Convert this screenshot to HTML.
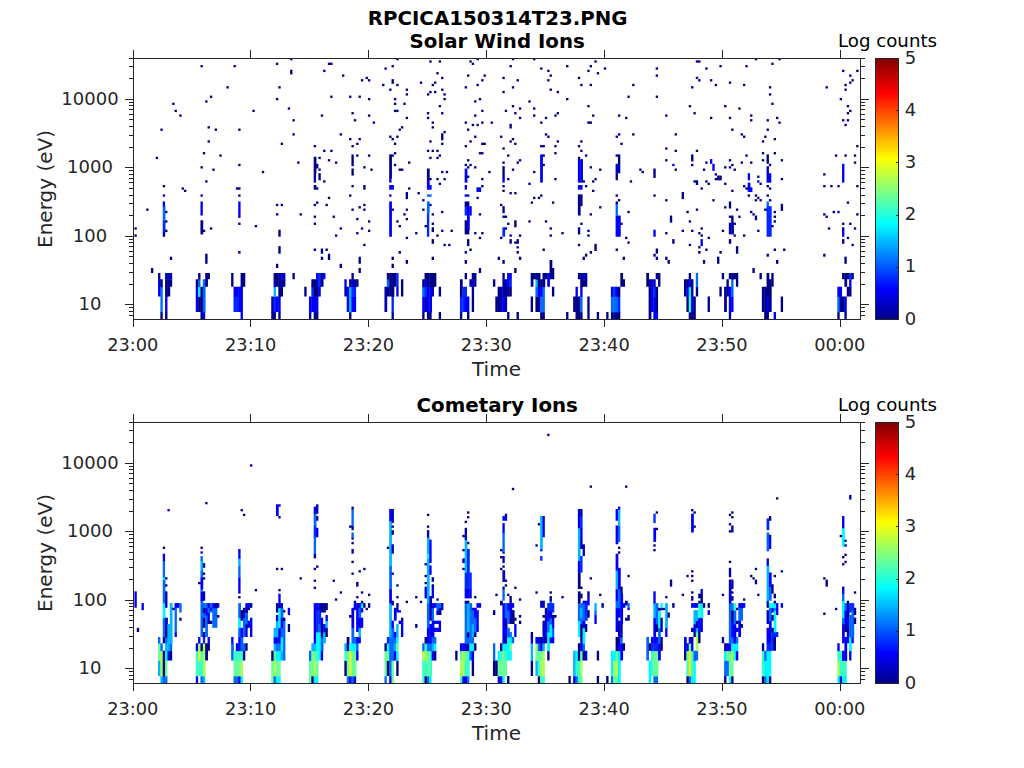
<!DOCTYPE html>
<html lang="en"><head><meta charset="utf-8"><title>RPCICA150314T23</title>
<style>html,body{margin:0;padding:0;background:#fff;overflow:hidden}svg{display:block}text{font-family:'DejaVu Sans','Liberation Sans',sans-serif}</style></head><body>
<svg width="1024" height="768" viewBox="0 0 1024 768">
<defs><linearGradient id="jet" x1="0" y1="1" x2="0" y2="0"><stop offset="0" stop-color="#000088"/><stop offset="0.117" stop-color="#0000ff"/><stop offset="0.367" stop-color="#00ffff"/><stop offset="0.617" stop-color="#ffff00"/><stop offset="0.867" stop-color="#ff0000"/><stop offset="1" stop-color="#800000"/></linearGradient></defs>
<rect width="1024" height="768" fill="#fff"/>
<g>
<rect x="134.43" y="234.39" width="2.36" height="2.35" fill="#000087"/>
<rect x="134.43" y="227.33" width="2.36" height="2.35" fill="#000087"/>
<rect x="146.22" y="208.51" width="2.36" height="2.35" fill="#000087"/>
<rect x="150.94" y="268.00" width="2.36" height="5.00" fill="#000087"/>
<rect x="155.66" y="156.76" width="2.36" height="2.35" fill="#000087"/>
<rect x="158.02" y="279.25" width="2.76" height="17.25" fill="#0000f7"/>
<rect x="158.02" y="273.00" width="2.36" height="6.65" fill="#000087"/>
<rect x="160.38" y="312.00" width="2.36" height="7.00" fill="#000087"/>
<rect x="160.38" y="286.75" width="2.36" height="25.65" fill="#0068ff"/>
<rect x="160.38" y="279.25" width="2.36" height="7.90" fill="#000087"/>
<rect x="160.38" y="128.53" width="2.36" height="2.35" fill="#000087"/>
<rect x="162.73" y="232.03" width="2.36" height="4.70" fill="#000087"/>
<rect x="162.73" y="220.27" width="2.76" height="12.16" fill="#0028ff"/>
<rect x="162.73" y="206.16" width="2.76" height="14.51" fill="#0068ff"/>
<rect x="162.73" y="201.45" width="2.36" height="5.10" fill="#0000f7"/>
<rect x="162.73" y="194.39" width="2.36" height="2.35" fill="#0000f7"/>
<rect x="162.73" y="184.99" width="2.36" height="2.35" fill="#000087"/>
<rect x="165.09" y="312.00" width="2.36" height="7.00" fill="#000087"/>
<rect x="165.09" y="296.50" width="2.36" height="15.90" fill="#0000f7"/>
<rect x="165.09" y="279.25" width="2.76" height="17.65" fill="#000087"/>
<rect x="165.09" y="273.00" width="2.76" height="6.65" fill="#0000b7"/>
<rect x="165.09" y="229.68" width="2.36" height="2.35" fill="#000087"/>
<rect x="165.09" y="220.27" width="2.36" height="2.35" fill="#000087"/>
<rect x="165.09" y="210.86" width="2.36" height="2.35" fill="#000087"/>
<rect x="167.45" y="279.25" width="2.76" height="17.25" fill="#000087"/>
<rect x="167.45" y="273.00" width="2.76" height="6.65" fill="#0000b7"/>
<rect x="169.81" y="279.25" width="2.36" height="7.50" fill="#000087"/>
<rect x="169.81" y="273.00" width="2.36" height="6.65" fill="#0000b7"/>
<rect x="169.81" y="256.70" width="2.36" height="3.30" fill="#000087"/>
<rect x="172.17" y="102.65" width="2.36" height="2.35" fill="#000087"/>
<rect x="174.53" y="109.71" width="2.36" height="2.35" fill="#000087"/>
<rect x="179.25" y="114.41" width="2.36" height="2.35" fill="#000087"/>
<rect x="181.60" y="187.34" width="2.36" height="2.35" fill="#000087"/>
<rect x="183.96" y="189.69" width="2.36" height="2.35" fill="#000087"/>
<rect x="195.76" y="286.75" width="2.76" height="25.25" fill="#0000f7"/>
<rect x="195.76" y="279.25" width="2.76" height="7.90" fill="#000087"/>
<rect x="198.11" y="296.50" width="2.76" height="15.50" fill="#000087"/>
<rect x="198.11" y="286.75" width="2.76" height="10.15" fill="#00f7ff"/>
<rect x="198.11" y="279.25" width="2.36" height="7.90" fill="#0068ff"/>
<rect x="198.11" y="273.00" width="2.36" height="6.65" fill="#000087"/>
<rect x="200.47" y="286.75" width="2.76" height="32.25" fill="#000087"/>
<rect x="200.47" y="220.27" width="2.76" height="14.11" fill="#000087"/>
<rect x="200.47" y="201.45" width="2.36" height="14.11" fill="#0000f7"/>
<rect x="200.47" y="194.39" width="2.36" height="2.35" fill="#0000f7"/>
<rect x="200.47" y="166.17" width="2.36" height="2.35" fill="#000087"/>
<rect x="200.47" y="65.01" width="2.36" height="2.35" fill="#000087"/>
<rect x="202.83" y="312.00" width="2.36" height="7.00" fill="#0000f7"/>
<rect x="202.83" y="279.25" width="2.76" height="33.15" fill="#0068ff"/>
<rect x="202.83" y="229.68" width="2.36" height="2.35" fill="#000087"/>
<rect x="202.83" y="152.05" width="2.36" height="2.35" fill="#000087"/>
<rect x="205.19" y="273.00" width="2.76" height="13.75" fill="#000087"/>
<rect x="205.19" y="253.70" width="2.36" height="10.10" fill="#000087"/>
<rect x="205.19" y="180.28" width="2.36" height="2.35" fill="#000087"/>
<rect x="205.19" y="100.30" width="2.36" height="2.35" fill="#000087"/>
<rect x="207.55" y="273.00" width="2.36" height="6.25" fill="#000087"/>
<rect x="207.55" y="140.29" width="2.36" height="2.35" fill="#000087"/>
<rect x="207.55" y="126.18" width="2.36" height="2.35" fill="#000087"/>
<rect x="209.91" y="227.33" width="2.36" height="2.35" fill="#000087"/>
<rect x="209.91" y="95.59" width="2.36" height="2.35" fill="#000087"/>
<rect x="212.27" y="168.52" width="2.36" height="2.35" fill="#000087"/>
<rect x="214.63" y="128.53" width="2.36" height="2.35" fill="#000087"/>
<rect x="219.34" y="154.40" width="2.36" height="2.35" fill="#000087"/>
<rect x="226.42" y="86.18" width="2.36" height="2.35" fill="#000087"/>
<rect x="231.14" y="273.00" width="2.36" height="13.75" fill="#000087"/>
<rect x="233.50" y="296.50" width="2.76" height="15.50" fill="#0028ff"/>
<rect x="233.50" y="286.75" width="2.76" height="10.15" fill="#0000f7"/>
<rect x="233.50" y="65.01" width="2.36" height="2.35" fill="#000087"/>
<rect x="235.85" y="296.50" width="2.76" height="15.50" fill="#0028ff"/>
<rect x="235.85" y="286.75" width="2.76" height="10.15" fill="#0000f7"/>
<rect x="235.85" y="187.34" width="2.76" height="2.35" fill="#000087"/>
<rect x="238.21" y="286.75" width="2.76" height="25.25" fill="#0000f7"/>
<rect x="238.21" y="251.00" width="2.36" height="2.70" fill="#000087"/>
<rect x="238.21" y="222.62" width="2.36" height="2.35" fill="#000087"/>
<rect x="238.21" y="201.45" width="2.36" height="16.47" fill="#0000f7"/>
<rect x="238.21" y="194.39" width="2.36" height="2.35" fill="#000087"/>
<rect x="238.21" y="187.34" width="2.36" height="2.35" fill="#000087"/>
<rect x="238.21" y="163.81" width="2.36" height="2.35" fill="#000087"/>
<rect x="238.21" y="128.53" width="2.36" height="2.35" fill="#000087"/>
<rect x="240.57" y="286.75" width="2.36" height="32.25" fill="#0000f7"/>
<rect x="240.57" y="273.00" width="2.76" height="14.15" fill="#000087"/>
<rect x="242.93" y="273.00" width="2.36" height="13.75" fill="#000087"/>
<rect x="252.37" y="109.71" width="2.36" height="2.35" fill="#000087"/>
<rect x="254.72" y="224.98" width="2.36" height="2.35" fill="#000087"/>
<rect x="261.80" y="170.87" width="2.36" height="2.35" fill="#000087"/>
<rect x="271.23" y="312.00" width="2.76" height="7.00" fill="#000087"/>
<rect x="271.23" y="296.50" width="2.76" height="15.90" fill="#0000b7"/>
<rect x="273.59" y="312.00" width="2.36" height="7.00" fill="#000087"/>
<rect x="273.59" y="296.50" width="2.76" height="15.90" fill="#0028ff"/>
<rect x="273.59" y="286.75" width="2.36" height="10.15" fill="#00b7ff"/>
<rect x="273.59" y="279.25" width="2.76" height="7.90" fill="#0000b7"/>
<rect x="273.59" y="273.00" width="2.76" height="6.65" fill="#000087"/>
<rect x="275.95" y="296.50" width="2.76" height="15.50" fill="#0000f7"/>
<rect x="275.95" y="273.00" width="2.76" height="13.75" fill="#000087"/>
<rect x="275.95" y="263.80" width="2.36" height="4.20" fill="#000087"/>
<rect x="275.95" y="213.21" width="2.36" height="2.35" fill="#000087"/>
<rect x="275.95" y="203.80" width="2.36" height="2.35" fill="#000087"/>
<rect x="275.95" y="97.95" width="2.36" height="2.35" fill="#000087"/>
<rect x="275.95" y="62.66" width="2.36" height="2.35" fill="#000087"/>
<rect x="278.31" y="312.00" width="2.36" height="7.00" fill="#000087"/>
<rect x="278.31" y="296.50" width="2.36" height="15.90" fill="#0000f7"/>
<rect x="278.31" y="273.00" width="2.76" height="23.90" fill="#000087"/>
<rect x="278.31" y="246.15" width="2.36" height="7.55" fill="#000087"/>
<rect x="278.31" y="229.68" width="2.36" height="7.06" fill="#000087"/>
<rect x="278.31" y="86.18" width="2.36" height="2.35" fill="#000087"/>
<rect x="280.67" y="286.75" width="2.36" height="9.75" fill="#000087"/>
<rect x="280.67" y="279.25" width="2.76" height="7.90" fill="#0000b7"/>
<rect x="280.67" y="273.00" width="2.76" height="6.65" fill="#0000f7"/>
<rect x="280.67" y="203.80" width="2.36" height="2.35" fill="#000087"/>
<rect x="280.67" y="142.64" width="2.36" height="2.35" fill="#000087"/>
<rect x="283.03" y="279.25" width="2.36" height="7.50" fill="#000087"/>
<rect x="283.03" y="273.00" width="2.36" height="6.65" fill="#0000b7"/>
<rect x="287.75" y="107.36" width="2.36" height="2.35" fill="#000087"/>
<rect x="290.10" y="69.72" width="2.36" height="4.70" fill="#000087"/>
<rect x="290.10" y="58.50" width="2.36" height="1.81" fill="#000087"/>
<rect x="292.46" y="273.00" width="2.36" height="6.25" fill="#000087"/>
<rect x="292.46" y="133.23" width="2.36" height="2.35" fill="#000087"/>
<rect x="292.46" y="119.12" width="2.36" height="2.35" fill="#000087"/>
<rect x="297.18" y="161.46" width="2.36" height="2.35" fill="#000087"/>
<rect x="299.54" y="213.21" width="2.36" height="2.35" fill="#000087"/>
<rect x="304.26" y="286.75" width="2.36" height="9.75" fill="#000087"/>
<rect x="308.97" y="312.00" width="2.36" height="7.00" fill="#0000b7"/>
<rect x="308.97" y="296.50" width="2.76" height="15.90" fill="#0000f7"/>
<rect x="311.33" y="296.50" width="2.76" height="15.50" fill="#0000f7"/>
<rect x="311.33" y="286.75" width="2.76" height="10.15" fill="#0028ff"/>
<rect x="311.33" y="279.25" width="2.76" height="7.90" fill="#000087"/>
<rect x="313.69" y="312.00" width="2.76" height="7.00" fill="#000087"/>
<rect x="313.69" y="296.50" width="2.76" height="15.90" fill="#0000f7"/>
<rect x="313.69" y="279.25" width="2.76" height="17.65" fill="#000087"/>
<rect x="313.69" y="248.50" width="2.36" height="2.50" fill="#000087"/>
<rect x="313.69" y="222.62" width="2.36" height="2.35" fill="#000087"/>
<rect x="313.69" y="215.57" width="2.36" height="2.35" fill="#000087"/>
<rect x="313.69" y="203.80" width="2.36" height="2.35" fill="#000087"/>
<rect x="313.69" y="184.99" width="2.76" height="4.70" fill="#000087"/>
<rect x="313.69" y="173.22" width="2.36" height="9.41" fill="#0000b7"/>
<rect x="313.69" y="156.76" width="2.76" height="16.87" fill="#000087"/>
<rect x="313.69" y="144.99" width="2.36" height="2.35" fill="#000087"/>
<rect x="316.05" y="312.00" width="2.36" height="7.00" fill="#000087"/>
<rect x="316.05" y="296.50" width="2.36" height="15.90" fill="#0000f7"/>
<rect x="316.05" y="286.75" width="2.76" height="10.15" fill="#000087"/>
<rect x="316.05" y="279.25" width="2.76" height="7.90" fill="#0000b7"/>
<rect x="316.05" y="273.00" width="2.76" height="6.65" fill="#0000f7"/>
<rect x="316.05" y="201.45" width="2.36" height="2.35" fill="#000087"/>
<rect x="316.05" y="187.34" width="2.36" height="2.35" fill="#000087"/>
<rect x="316.05" y="163.81" width="2.36" height="4.70" fill="#000087"/>
<rect x="318.41" y="286.75" width="2.36" height="9.75" fill="#0000f7"/>
<rect x="318.41" y="273.00" width="2.76" height="14.15" fill="#0028ff"/>
<rect x="318.41" y="173.22" width="2.36" height="7.06" fill="#000087"/>
<rect x="318.41" y="168.52" width="2.36" height="2.35" fill="#000087"/>
<rect x="318.41" y="156.76" width="2.36" height="2.35" fill="#000087"/>
<rect x="320.77" y="273.00" width="2.76" height="13.75" fill="#000087"/>
<rect x="320.77" y="256.70" width="2.36" height="3.30" fill="#000087"/>
<rect x="320.77" y="248.50" width="2.36" height="5.20" fill="#000087"/>
<rect x="320.77" y="114.41" width="2.36" height="2.35" fill="#000087"/>
<rect x="323.13" y="273.00" width="2.36" height="6.25" fill="#0000f7"/>
<rect x="323.13" y="180.28" width="2.36" height="2.35" fill="#000087"/>
<rect x="323.13" y="149.70" width="2.36" height="2.35" fill="#000087"/>
<rect x="323.13" y="69.72" width="2.36" height="2.35" fill="#000087"/>
<rect x="325.48" y="248.50" width="2.36" height="2.50" fill="#000087"/>
<rect x="325.48" y="203.80" width="2.36" height="2.35" fill="#000087"/>
<rect x="327.84" y="253.70" width="2.36" height="6.30" fill="#000087"/>
<rect x="327.84" y="196.75" width="2.36" height="2.35" fill="#000087"/>
<rect x="327.84" y="159.11" width="2.36" height="2.35" fill="#000087"/>
<rect x="327.84" y="62.66" width="2.76" height="2.35" fill="#000087"/>
<rect x="330.20" y="149.70" width="2.36" height="2.35" fill="#000087"/>
<rect x="330.20" y="95.59" width="2.36" height="2.35" fill="#000087"/>
<rect x="330.20" y="62.66" width="2.36" height="2.35" fill="#000087"/>
<rect x="332.56" y="215.57" width="2.36" height="2.35" fill="#000087"/>
<rect x="334.92" y="234.39" width="2.36" height="2.35" fill="#000087"/>
<rect x="334.92" y="161.46" width="2.36" height="2.35" fill="#000087"/>
<rect x="339.64" y="263.80" width="2.36" height="4.20" fill="#000087"/>
<rect x="339.64" y="227.33" width="2.36" height="2.35" fill="#000087"/>
<rect x="339.64" y="133.23" width="2.36" height="2.35" fill="#000087"/>
<rect x="342.00" y="74.42" width="2.36" height="2.35" fill="#000087"/>
<rect x="344.35" y="286.75" width="2.76" height="9.75" fill="#0000b7"/>
<rect x="344.35" y="279.25" width="2.36" height="7.90" fill="#0000f7"/>
<rect x="346.71" y="286.75" width="2.76" height="25.25" fill="#0000f7"/>
<rect x="349.07" y="312.00" width="2.36" height="7.00" fill="#000087"/>
<rect x="349.07" y="286.75" width="2.76" height="25.65" fill="#00b7ff"/>
<rect x="349.07" y="279.25" width="2.76" height="7.90" fill="#0000b7"/>
<rect x="349.07" y="194.39" width="2.36" height="2.35" fill="#000087"/>
<rect x="349.07" y="137.94" width="2.36" height="2.35" fill="#000087"/>
<rect x="349.07" y="95.59" width="2.36" height="2.35" fill="#000087"/>
<rect x="351.43" y="296.50" width="2.76" height="15.50" fill="#0000f7"/>
<rect x="351.43" y="286.75" width="2.76" height="10.15" fill="#0028ff"/>
<rect x="351.43" y="279.25" width="2.76" height="7.90" fill="#0000b7"/>
<rect x="351.43" y="273.00" width="2.36" height="6.65" fill="#000087"/>
<rect x="351.43" y="208.51" width="2.36" height="2.35" fill="#000087"/>
<rect x="351.43" y="184.99" width="2.36" height="2.35" fill="#000087"/>
<rect x="351.43" y="168.52" width="2.36" height="7.06" fill="#000087"/>
<rect x="351.43" y="154.40" width="2.36" height="11.76" fill="#000087"/>
<rect x="351.43" y="144.99" width="2.36" height="2.35" fill="#000087"/>
<rect x="351.43" y="112.06" width="2.36" height="2.35" fill="#000087"/>
<rect x="353.79" y="296.50" width="2.36" height="15.50" fill="#0000f7"/>
<rect x="353.79" y="286.75" width="2.36" height="10.15" fill="#0028ff"/>
<rect x="353.79" y="279.25" width="2.76" height="7.90" fill="#0000b7"/>
<rect x="353.79" y="119.12" width="2.36" height="2.35" fill="#000087"/>
<rect x="356.15" y="279.25" width="2.36" height="7.50" fill="#000087"/>
<rect x="356.15" y="232.03" width="2.36" height="2.35" fill="#000087"/>
<rect x="356.15" y="217.92" width="2.36" height="2.35" fill="#000087"/>
<rect x="356.15" y="154.40" width="2.36" height="2.35" fill="#000087"/>
<rect x="356.15" y="142.64" width="2.36" height="2.35" fill="#000087"/>
<rect x="358.51" y="268.00" width="2.36" height="5.00" fill="#000087"/>
<rect x="358.51" y="256.70" width="2.36" height="7.10" fill="#000087"/>
<rect x="358.51" y="206.16" width="2.36" height="2.35" fill="#000087"/>
<rect x="358.51" y="137.94" width="2.36" height="2.35" fill="#000087"/>
<rect x="358.51" y="95.59" width="2.36" height="2.35" fill="#000087"/>
<rect x="360.87" y="227.33" width="2.36" height="2.35" fill="#000087"/>
<rect x="360.87" y="79.13" width="2.36" height="2.35" fill="#000087"/>
<rect x="363.22" y="243.80" width="2.36" height="2.35" fill="#000087"/>
<rect x="363.22" y="208.51" width="2.36" height="2.35" fill="#000087"/>
<rect x="363.22" y="203.80" width="2.36" height="2.35" fill="#000087"/>
<rect x="363.22" y="184.99" width="2.36" height="4.70" fill="#000087"/>
<rect x="363.22" y="166.17" width="2.36" height="2.35" fill="#000087"/>
<rect x="365.58" y="76.77" width="2.36" height="2.35" fill="#000087"/>
<rect x="367.94" y="229.68" width="2.36" height="2.35" fill="#000087"/>
<rect x="367.94" y="220.27" width="2.36" height="2.35" fill="#000087"/>
<rect x="367.94" y="154.40" width="2.36" height="2.35" fill="#000087"/>
<rect x="367.94" y="114.41" width="2.36" height="2.35" fill="#000087"/>
<rect x="367.94" y="97.95" width="2.36" height="2.35" fill="#000087"/>
<rect x="367.94" y="79.13" width="2.36" height="2.35" fill="#000087"/>
<rect x="370.30" y="168.52" width="2.36" height="2.35" fill="#000087"/>
<rect x="372.66" y="121.47" width="2.36" height="2.35" fill="#000087"/>
<rect x="382.09" y="83.83" width="2.36" height="2.35" fill="#000087"/>
<rect x="384.45" y="286.75" width="2.76" height="25.25" fill="#0000b7"/>
<rect x="384.45" y="67.37" width="2.36" height="2.35" fill="#000087"/>
<rect x="386.81" y="286.75" width="2.76" height="9.75" fill="#000087"/>
<rect x="386.81" y="279.25" width="2.76" height="7.90" fill="#0068ff"/>
<rect x="386.81" y="273.00" width="2.76" height="6.65" fill="#000087"/>
<rect x="389.17" y="273.00" width="2.76" height="23.50" fill="#000087"/>
<rect x="389.17" y="201.45" width="2.76" height="35.29" fill="#0000f7"/>
<rect x="389.17" y="194.39" width="2.36" height="2.35" fill="#0000f7"/>
<rect x="389.17" y="184.99" width="2.76" height="4.70" fill="#0000f7"/>
<rect x="389.17" y="177.93" width="2.36" height="4.70" fill="#0000f7"/>
<rect x="389.17" y="154.40" width="2.76" height="23.92" fill="#000087"/>
<rect x="389.17" y="135.58" width="2.36" height="2.35" fill="#000087"/>
<rect x="389.17" y="88.54" width="2.36" height="2.35" fill="#000087"/>
<rect x="391.53" y="312.00" width="2.36" height="7.00" fill="#000087"/>
<rect x="391.53" y="296.50" width="2.36" height="15.90" fill="#0028ff"/>
<rect x="391.53" y="273.00" width="2.76" height="23.90" fill="#000087"/>
<rect x="391.53" y="263.80" width="2.36" height="4.20" fill="#000087"/>
<rect x="391.53" y="256.70" width="2.36" height="3.30" fill="#000087"/>
<rect x="391.53" y="208.51" width="2.36" height="2.35" fill="#000087"/>
<rect x="391.53" y="184.99" width="2.36" height="4.70" fill="#0000f7"/>
<rect x="391.53" y="154.40" width="2.36" height="2.35" fill="#000087"/>
<rect x="391.53" y="137.94" width="2.36" height="2.35" fill="#000087"/>
<rect x="391.53" y="79.13" width="2.36" height="4.70" fill="#000087"/>
<rect x="391.53" y="65.01" width="2.36" height="2.35" fill="#000087"/>
<rect x="393.89" y="273.00" width="2.76" height="13.75" fill="#000087"/>
<rect x="393.89" y="163.81" width="2.36" height="2.35" fill="#000087"/>
<rect x="393.89" y="152.05" width="2.36" height="2.35" fill="#000087"/>
<rect x="393.89" y="142.64" width="2.36" height="2.35" fill="#000087"/>
<rect x="393.89" y="109.71" width="2.76" height="2.35" fill="#000087"/>
<rect x="393.89" y="102.65" width="2.36" height="2.35" fill="#000087"/>
<rect x="393.89" y="97.95" width="2.36" height="2.35" fill="#000087"/>
<rect x="396.25" y="286.75" width="2.36" height="9.75" fill="#0000f7"/>
<rect x="396.25" y="273.00" width="2.36" height="14.15" fill="#0028ff"/>
<rect x="396.25" y="220.27" width="2.36" height="2.35" fill="#000087"/>
<rect x="396.25" y="135.58" width="2.36" height="2.35" fill="#000087"/>
<rect x="396.25" y="109.71" width="2.36" height="2.35" fill="#000087"/>
<rect x="396.25" y="83.83" width="2.36" height="2.35" fill="#000087"/>
<rect x="396.25" y="58.50" width="2.36" height="1.81" fill="#000087"/>
<rect x="398.60" y="251.00" width="2.36" height="2.70" fill="#000087"/>
<rect x="398.60" y="224.98" width="2.36" height="2.35" fill="#000087"/>
<rect x="398.60" y="168.52" width="2.76" height="2.35" fill="#000087"/>
<rect x="398.60" y="128.53" width="2.36" height="2.35" fill="#000087"/>
<rect x="400.96" y="279.25" width="2.36" height="17.25" fill="#000087"/>
<rect x="400.96" y="168.52" width="2.36" height="2.35" fill="#000087"/>
<rect x="400.96" y="126.18" width="2.36" height="2.35" fill="#000087"/>
<rect x="403.32" y="213.21" width="2.36" height="2.35" fill="#000087"/>
<rect x="403.32" y="102.65" width="2.36" height="2.35" fill="#000087"/>
<rect x="405.68" y="260.00" width="2.36" height="3.80" fill="#000087"/>
<rect x="405.68" y="236.74" width="2.36" height="2.35" fill="#000087"/>
<rect x="405.68" y="217.92" width="2.36" height="2.35" fill="#000087"/>
<rect x="405.68" y="208.51" width="2.36" height="2.35" fill="#000087"/>
<rect x="405.68" y="192.04" width="2.36" height="7.06" fill="#000087"/>
<rect x="405.68" y="116.77" width="2.36" height="2.35" fill="#000087"/>
<rect x="405.68" y="93.24" width="2.36" height="2.35" fill="#000087"/>
<rect x="405.68" y="88.54" width="2.36" height="2.35" fill="#000087"/>
<rect x="408.04" y="187.34" width="2.36" height="2.35" fill="#000087"/>
<rect x="408.04" y="161.46" width="2.36" height="2.35" fill="#000087"/>
<rect x="415.12" y="232.03" width="2.36" height="2.35" fill="#000087"/>
<rect x="417.47" y="192.04" width="2.36" height="2.35" fill="#000087"/>
<rect x="419.83" y="81.48" width="2.36" height="2.35" fill="#000087"/>
<rect x="422.19" y="312.00" width="2.36" height="7.00" fill="#000087"/>
<rect x="422.19" y="296.50" width="2.76" height="15.90" fill="#0000f7"/>
<rect x="422.19" y="286.75" width="2.76" height="10.15" fill="#0068ff"/>
<rect x="422.19" y="279.25" width="2.76" height="7.90" fill="#000087"/>
<rect x="422.19" y="208.51" width="2.36" height="2.35" fill="#000087"/>
<rect x="422.19" y="199.10" width="2.36" height="2.35" fill="#000087"/>
<rect x="424.55" y="296.50" width="2.76" height="15.50" fill="#0000b7"/>
<rect x="424.55" y="286.75" width="2.76" height="10.15" fill="#0028ff"/>
<rect x="424.55" y="279.25" width="2.76" height="7.90" fill="#0000f7"/>
<rect x="424.55" y="273.00" width="2.76" height="6.65" fill="#000087"/>
<rect x="424.55" y="224.98" width="2.76" height="2.35" fill="#000087"/>
<rect x="426.91" y="312.00" width="2.76" height="7.00" fill="#000087"/>
<rect x="426.91" y="286.75" width="2.76" height="25.65" fill="#0000f7"/>
<rect x="426.91" y="273.00" width="2.76" height="14.15" fill="#000087"/>
<rect x="426.91" y="213.21" width="2.36" height="23.52" fill="#0028ff"/>
<rect x="426.91" y="201.45" width="2.76" height="12.16" fill="#0068ff"/>
<rect x="426.91" y="194.39" width="2.76" height="2.35" fill="#0068ff"/>
<rect x="426.91" y="180.28" width="2.76" height="9.41" fill="#0000f7"/>
<rect x="426.91" y="168.52" width="2.76" height="12.16" fill="#000087"/>
<rect x="426.91" y="149.70" width="2.36" height="2.35" fill="#000087"/>
<rect x="426.91" y="116.77" width="2.36" height="2.35" fill="#000087"/>
<rect x="426.91" y="112.06" width="2.36" height="2.35" fill="#000087"/>
<rect x="426.91" y="93.24" width="2.36" height="2.35" fill="#000087"/>
<rect x="429.27" y="312.00" width="2.36" height="7.00" fill="#000087"/>
<rect x="429.27" y="286.75" width="2.76" height="25.65" fill="#0000f7"/>
<rect x="429.27" y="273.00" width="2.76" height="14.15" fill="#000087"/>
<rect x="429.27" y="203.80" width="2.36" height="2.35" fill="#000087"/>
<rect x="429.27" y="194.39" width="2.36" height="2.35" fill="#0068ff"/>
<rect x="429.27" y="184.99" width="2.36" height="4.70" fill="#0000f7"/>
<rect x="429.27" y="177.93" width="2.36" height="2.35" fill="#000087"/>
<rect x="429.27" y="156.76" width="2.36" height="2.35" fill="#000087"/>
<rect x="429.27" y="140.29" width="2.36" height="2.35" fill="#000087"/>
<rect x="429.27" y="90.89" width="2.36" height="2.35" fill="#000087"/>
<rect x="429.27" y="60.31" width="2.36" height="2.35" fill="#000087"/>
<rect x="431.63" y="286.75" width="2.36" height="9.75" fill="#0000b7"/>
<rect x="431.63" y="273.00" width="2.76" height="14.15" fill="#000087"/>
<rect x="431.63" y="256.70" width="2.36" height="3.30" fill="#000087"/>
<rect x="431.63" y="239.09" width="2.36" height="4.70" fill="#000087"/>
<rect x="431.63" y="227.33" width="2.36" height="4.70" fill="#000087"/>
<rect x="431.63" y="222.62" width="2.36" height="2.35" fill="#000087"/>
<rect x="431.63" y="213.21" width="2.36" height="2.35" fill="#000087"/>
<rect x="431.63" y="149.70" width="2.36" height="2.35" fill="#000087"/>
<rect x="431.63" y="126.18" width="2.36" height="2.35" fill="#000087"/>
<rect x="431.63" y="121.47" width="2.36" height="2.35" fill="#000087"/>
<rect x="431.63" y="83.83" width="2.36" height="2.35" fill="#000087"/>
<rect x="433.98" y="273.00" width="2.36" height="13.75" fill="#000087"/>
<rect x="433.98" y="90.89" width="2.36" height="2.35" fill="#000087"/>
<rect x="433.98" y="81.48" width="2.36" height="2.35" fill="#000087"/>
<rect x="436.34" y="234.39" width="2.36" height="2.35" fill="#000087"/>
<rect x="436.34" y="177.93" width="2.36" height="2.35" fill="#000087"/>
<rect x="436.34" y="156.76" width="2.36" height="2.35" fill="#000087"/>
<rect x="436.34" y="149.70" width="2.36" height="2.35" fill="#000087"/>
<rect x="436.34" y="72.07" width="2.36" height="2.35" fill="#000087"/>
<rect x="438.70" y="312.00" width="2.36" height="7.00" fill="#000087"/>
<rect x="438.70" y="286.75" width="2.36" height="9.75" fill="#000087"/>
<rect x="438.70" y="182.63" width="2.36" height="2.35" fill="#000087"/>
<rect x="438.70" y="154.40" width="2.36" height="2.35" fill="#000087"/>
<rect x="438.70" y="105.00" width="2.36" height="2.35" fill="#000087"/>
<rect x="438.70" y="60.31" width="2.36" height="2.35" fill="#000087"/>
<rect x="441.06" y="229.68" width="2.36" height="2.35" fill="#000087"/>
<rect x="441.06" y="210.86" width="2.36" height="2.35" fill="#000087"/>
<rect x="441.06" y="170.87" width="2.36" height="2.35" fill="#000087"/>
<rect x="441.06" y="142.64" width="2.36" height="2.35" fill="#000087"/>
<rect x="441.06" y="133.23" width="2.36" height="7.06" fill="#000087"/>
<rect x="441.06" y="112.06" width="2.36" height="2.35" fill="#000087"/>
<rect x="441.06" y="88.54" width="2.36" height="2.35" fill="#000087"/>
<rect x="441.06" y="76.77" width="2.36" height="2.35" fill="#000087"/>
<rect x="443.42" y="243.80" width="2.36" height="2.35" fill="#000087"/>
<rect x="443.42" y="177.93" width="2.36" height="2.35" fill="#000087"/>
<rect x="443.42" y="130.88" width="2.36" height="2.35" fill="#000087"/>
<rect x="443.42" y="97.95" width="2.36" height="2.35" fill="#000087"/>
<rect x="443.42" y="93.24" width="2.36" height="2.35" fill="#000087"/>
<rect x="445.78" y="170.87" width="2.36" height="2.35" fill="#000087"/>
<rect x="448.14" y="243.80" width="2.36" height="2.35" fill="#000087"/>
<rect x="450.50" y="229.68" width="2.36" height="2.35" fill="#000087"/>
<rect x="459.93" y="312.00" width="2.36" height="7.00" fill="#000087"/>
<rect x="459.93" y="296.50" width="2.76" height="15.90" fill="#0028ff"/>
<rect x="459.93" y="279.25" width="2.76" height="17.65" fill="#000087"/>
<rect x="462.29" y="286.75" width="2.76" height="25.25" fill="#0028ff"/>
<rect x="464.65" y="296.50" width="2.76" height="15.50" fill="#0000f7"/>
<rect x="464.65" y="286.75" width="2.36" height="10.15" fill="#0028ff"/>
<rect x="464.65" y="273.00" width="2.36" height="6.25" fill="#000087"/>
<rect x="464.65" y="260.00" width="2.36" height="3.80" fill="#000087"/>
<rect x="464.65" y="251.00" width="2.36" height="2.70" fill="#000087"/>
<rect x="464.65" y="220.27" width="2.76" height="14.11" fill="#000087"/>
<rect x="464.65" y="206.16" width="2.76" height="9.41" fill="#0028ff"/>
<rect x="464.65" y="201.45" width="2.76" height="5.10" fill="#000087"/>
<rect x="464.65" y="194.39" width="2.76" height="2.35" fill="#0000f7"/>
<rect x="464.65" y="184.99" width="2.36" height="4.70" fill="#0000f7"/>
<rect x="464.65" y="168.52" width="2.76" height="14.11" fill="#0000f7"/>
<rect x="464.65" y="163.81" width="2.36" height="2.35" fill="#000087"/>
<rect x="464.65" y="144.99" width="2.36" height="2.35" fill="#000087"/>
<rect x="464.65" y="121.47" width="2.36" height="2.35" fill="#000087"/>
<rect x="464.65" y="86.18" width="2.36" height="2.35" fill="#000087"/>
<rect x="467.01" y="312.00" width="2.36" height="7.00" fill="#000087"/>
<rect x="467.01" y="296.50" width="2.36" height="15.90" fill="#0000f7"/>
<rect x="467.01" y="239.09" width="2.36" height="7.06" fill="#000087"/>
<rect x="467.01" y="229.68" width="2.36" height="4.70" fill="#000087"/>
<rect x="467.01" y="206.16" width="2.76" height="23.92" fill="#0000f7"/>
<rect x="467.01" y="201.45" width="2.36" height="5.10" fill="#000087"/>
<rect x="467.01" y="194.39" width="2.36" height="2.35" fill="#0000f7"/>
<rect x="467.01" y="175.58" width="2.36" height="2.35" fill="#000087"/>
<rect x="467.01" y="166.17" width="2.36" height="2.35" fill="#000087"/>
<rect x="467.01" y="159.11" width="2.36" height="2.35" fill="#000087"/>
<rect x="467.01" y="128.53" width="2.36" height="2.35" fill="#000087"/>
<rect x="467.01" y="74.42" width="2.36" height="2.35" fill="#000087"/>
<rect x="469.37" y="279.25" width="2.76" height="7.50" fill="#0000b7"/>
<rect x="469.37" y="248.50" width="2.36" height="2.50" fill="#000087"/>
<rect x="469.37" y="206.16" width="2.36" height="9.41" fill="#0000f7"/>
<rect x="469.37" y="163.81" width="2.36" height="2.35" fill="#000087"/>
<rect x="469.37" y="140.29" width="2.36" height="2.35" fill="#000087"/>
<rect x="469.37" y="60.31" width="2.36" height="2.35" fill="#000087"/>
<rect x="471.72" y="286.75" width="2.36" height="25.25" fill="#000087"/>
<rect x="471.72" y="279.25" width="2.76" height="7.90" fill="#0000b7"/>
<rect x="471.72" y="273.00" width="2.76" height="6.65" fill="#000087"/>
<rect x="471.72" y="123.82" width="2.36" height="2.35" fill="#000087"/>
<rect x="471.72" y="62.66" width="2.36" height="2.35" fill="#000087"/>
<rect x="474.08" y="279.25" width="2.36" height="7.50" fill="#0000b7"/>
<rect x="474.08" y="273.00" width="2.36" height="6.65" fill="#000087"/>
<rect x="474.08" y="232.03" width="2.36" height="2.35" fill="#000087"/>
<rect x="474.08" y="166.17" width="2.36" height="2.35" fill="#000087"/>
<rect x="474.08" y="135.58" width="2.36" height="2.35" fill="#000087"/>
<rect x="474.08" y="114.41" width="2.36" height="2.35" fill="#000087"/>
<rect x="474.08" y="100.30" width="2.36" height="2.35" fill="#000087"/>
<rect x="476.44" y="196.75" width="2.36" height="2.35" fill="#000087"/>
<rect x="476.44" y="187.34" width="2.76" height="4.70" fill="#0000f7"/>
<rect x="476.44" y="123.82" width="2.36" height="2.35" fill="#000087"/>
<rect x="476.44" y="83.83" width="2.36" height="2.35" fill="#000087"/>
<rect x="476.44" y="58.50" width="2.36" height="1.81" fill="#000087"/>
<rect x="478.80" y="268.00" width="2.36" height="5.00" fill="#000087"/>
<rect x="478.80" y="236.74" width="2.36" height="2.35" fill="#000087"/>
<rect x="478.80" y="213.21" width="2.36" height="2.35" fill="#000087"/>
<rect x="478.80" y="187.34" width="2.36" height="4.70" fill="#0000f7"/>
<rect x="478.80" y="152.05" width="2.76" height="2.35" fill="#000087"/>
<rect x="478.80" y="97.95" width="2.36" height="2.35" fill="#000087"/>
<rect x="481.16" y="232.03" width="2.36" height="2.35" fill="#000087"/>
<rect x="481.16" y="184.99" width="2.36" height="2.35" fill="#000087"/>
<rect x="481.16" y="177.93" width="2.36" height="2.35" fill="#000087"/>
<rect x="481.16" y="152.05" width="2.36" height="2.35" fill="#000087"/>
<rect x="481.16" y="142.64" width="2.76" height="2.35" fill="#000087"/>
<rect x="481.16" y="121.47" width="2.36" height="2.35" fill="#000087"/>
<rect x="481.16" y="109.71" width="2.36" height="2.35" fill="#000087"/>
<rect x="481.16" y="79.13" width="2.36" height="2.35" fill="#000087"/>
<rect x="483.52" y="142.64" width="2.36" height="2.35" fill="#000087"/>
<rect x="483.52" y="74.42" width="2.36" height="2.35" fill="#000087"/>
<rect x="488.23" y="170.87" width="2.36" height="2.35" fill="#000087"/>
<rect x="490.59" y="121.47" width="2.36" height="2.35" fill="#000087"/>
<rect x="492.95" y="279.25" width="2.36" height="7.50" fill="#000087"/>
<rect x="495.31" y="296.50" width="2.76" height="15.50" fill="#000087"/>
<rect x="497.67" y="286.75" width="2.76" height="25.25" fill="#000087"/>
<rect x="497.67" y="256.70" width="2.36" height="3.30" fill="#000087"/>
<rect x="500.03" y="286.75" width="2.76" height="25.25" fill="#0000b7"/>
<rect x="500.03" y="236.74" width="2.36" height="2.35" fill="#000087"/>
<rect x="500.03" y="203.80" width="2.36" height="2.35" fill="#000087"/>
<rect x="500.03" y="135.58" width="2.36" height="2.35" fill="#000087"/>
<rect x="502.39" y="296.50" width="2.76" height="15.50" fill="#0000f7"/>
<rect x="502.39" y="279.25" width="2.76" height="17.65" fill="#0000b7"/>
<rect x="502.39" y="273.00" width="2.36" height="6.65" fill="#000087"/>
<rect x="502.39" y="260.00" width="2.36" height="3.80" fill="#000087"/>
<rect x="502.39" y="227.33" width="2.76" height="9.41" fill="#0028ff"/>
<rect x="502.39" y="215.57" width="2.76" height="2.35" fill="#000087"/>
<rect x="502.39" y="206.16" width="2.36" height="7.06" fill="#000087"/>
<rect x="502.39" y="189.69" width="2.36" height="2.35" fill="#000087"/>
<rect x="502.39" y="184.99" width="2.36" height="2.35" fill="#000087"/>
<rect x="502.39" y="177.93" width="2.36" height="4.70" fill="#0000f7"/>
<rect x="502.39" y="166.17" width="2.36" height="12.16" fill="#000087"/>
<rect x="502.39" y="161.46" width="2.36" height="2.35" fill="#000087"/>
<rect x="502.39" y="147.35" width="2.36" height="2.35" fill="#000087"/>
<rect x="502.39" y="90.89" width="2.36" height="2.35" fill="#000087"/>
<rect x="502.39" y="76.77" width="2.36" height="2.35" fill="#000087"/>
<rect x="504.75" y="296.50" width="2.36" height="15.50" fill="#0000b7"/>
<rect x="504.75" y="286.75" width="2.76" height="10.15" fill="#000087"/>
<rect x="504.75" y="279.25" width="2.76" height="7.90" fill="#0000b7"/>
<rect x="504.75" y="227.33" width="2.36" height="2.35" fill="#000087"/>
<rect x="504.75" y="215.57" width="2.36" height="2.35" fill="#000087"/>
<rect x="504.75" y="109.71" width="2.36" height="2.35" fill="#000087"/>
<rect x="507.10" y="312.00" width="2.36" height="7.00" fill="#000087"/>
<rect x="507.10" y="286.75" width="2.76" height="9.75" fill="#000087"/>
<rect x="507.10" y="273.00" width="2.76" height="14.15" fill="#0000f7"/>
<rect x="507.10" y="222.62" width="2.36" height="2.35" fill="#000087"/>
<rect x="507.10" y="177.93" width="2.36" height="2.35" fill="#000087"/>
<rect x="507.10" y="154.40" width="2.36" height="2.35" fill="#000087"/>
<rect x="509.46" y="286.75" width="2.36" height="9.75" fill="#000087"/>
<rect x="509.46" y="279.25" width="2.36" height="7.90" fill="#0028ff"/>
<rect x="509.46" y="273.00" width="2.36" height="6.65" fill="#0000f7"/>
<rect x="509.46" y="239.09" width="2.36" height="4.70" fill="#000087"/>
<rect x="509.46" y="234.39" width="2.36" height="2.35" fill="#000087"/>
<rect x="509.46" y="192.04" width="2.36" height="2.35" fill="#000087"/>
<rect x="509.46" y="140.29" width="2.36" height="2.35" fill="#000087"/>
<rect x="509.46" y="123.82" width="2.36" height="4.70" fill="#000087"/>
<rect x="509.46" y="65.01" width="2.36" height="2.35" fill="#000087"/>
<rect x="511.82" y="168.52" width="2.36" height="2.35" fill="#000087"/>
<rect x="511.82" y="137.94" width="2.36" height="2.35" fill="#000087"/>
<rect x="511.82" y="105.00" width="2.36" height="2.35" fill="#000087"/>
<rect x="511.82" y="86.18" width="2.36" height="2.35" fill="#000087"/>
<rect x="511.82" y="58.50" width="2.36" height="1.81" fill="#000087"/>
<rect x="514.18" y="268.00" width="2.36" height="5.00" fill="#000087"/>
<rect x="514.18" y="241.44" width="2.76" height="2.35" fill="#000087"/>
<rect x="514.18" y="220.27" width="2.36" height="7.06" fill="#000087"/>
<rect x="514.18" y="192.04" width="2.36" height="2.35" fill="#000087"/>
<rect x="514.18" y="142.64" width="2.36" height="2.35" fill="#000087"/>
<rect x="514.18" y="112.06" width="2.36" height="2.35" fill="#000087"/>
<rect x="516.54" y="312.00" width="2.36" height="7.00" fill="#000087"/>
<rect x="516.54" y="251.00" width="2.36" height="2.70" fill="#000087"/>
<rect x="516.54" y="246.15" width="2.36" height="2.35" fill="#000087"/>
<rect x="516.54" y="239.09" width="2.36" height="4.70" fill="#000087"/>
<rect x="516.54" y="161.46" width="2.36" height="2.35" fill="#000087"/>
<rect x="516.54" y="79.13" width="2.36" height="2.35" fill="#000087"/>
<rect x="518.90" y="256.70" width="2.36" height="3.30" fill="#000087"/>
<rect x="518.90" y="234.39" width="2.36" height="2.35" fill="#000087"/>
<rect x="518.90" y="159.11" width="2.36" height="2.35" fill="#000087"/>
<rect x="518.90" y="116.77" width="2.36" height="2.35" fill="#000087"/>
<rect x="518.90" y="107.36" width="2.36" height="2.35" fill="#000087"/>
<rect x="528.33" y="220.27" width="2.36" height="2.35" fill="#000087"/>
<rect x="528.33" y="182.63" width="2.36" height="2.35" fill="#000087"/>
<rect x="528.33" y="100.30" width="2.36" height="2.35" fill="#000087"/>
<rect x="530.69" y="296.50" width="2.36" height="15.50" fill="#000087"/>
<rect x="530.69" y="273.00" width="2.76" height="13.75" fill="#000087"/>
<rect x="530.69" y="201.45" width="2.36" height="2.35" fill="#000087"/>
<rect x="533.05" y="273.00" width="2.76" height="6.25" fill="#000087"/>
<rect x="533.05" y="196.75" width="2.36" height="2.35" fill="#000087"/>
<rect x="533.05" y="170.87" width="2.36" height="2.35" fill="#000087"/>
<rect x="533.05" y="114.41" width="2.36" height="2.35" fill="#000087"/>
<rect x="533.05" y="107.36" width="2.36" height="2.35" fill="#000087"/>
<rect x="533.05" y="58.50" width="2.36" height="1.81" fill="#000087"/>
<rect x="535.41" y="296.50" width="2.76" height="15.50" fill="#000087"/>
<rect x="535.41" y="286.75" width="2.76" height="10.15" fill="#0068ff"/>
<rect x="535.41" y="279.25" width="2.76" height="7.90" fill="#00b7ff"/>
<rect x="535.41" y="273.00" width="2.76" height="6.65" fill="#000087"/>
<rect x="537.77" y="296.50" width="2.76" height="15.50" fill="#000087"/>
<rect x="537.77" y="286.75" width="2.76" height="10.15" fill="#0000f7"/>
<rect x="537.77" y="273.00" width="2.76" height="14.15" fill="#000087"/>
<rect x="537.77" y="196.75" width="2.36" height="2.35" fill="#000087"/>
<rect x="540.13" y="312.00" width="2.76" height="7.00" fill="#000087"/>
<rect x="540.13" y="296.50" width="2.76" height="15.90" fill="#0068ff"/>
<rect x="540.13" y="286.75" width="2.76" height="10.15" fill="#0000f7"/>
<rect x="540.13" y="279.25" width="2.76" height="7.90" fill="#000087"/>
<rect x="540.13" y="194.39" width="2.36" height="2.35" fill="#000087"/>
<rect x="540.13" y="154.40" width="2.76" height="28.23" fill="#0000f7"/>
<rect x="540.13" y="144.99" width="2.76" height="2.35" fill="#000087"/>
<rect x="540.13" y="121.47" width="2.36" height="2.35" fill="#000087"/>
<rect x="540.13" y="67.37" width="2.36" height="2.35" fill="#000087"/>
<rect x="542.49" y="312.00" width="2.36" height="7.00" fill="#000087"/>
<rect x="542.49" y="286.75" width="2.36" height="25.65" fill="#0068ff"/>
<rect x="542.49" y="273.00" width="2.76" height="14.15" fill="#000087"/>
<rect x="542.49" y="248.50" width="2.36" height="2.50" fill="#000087"/>
<rect x="542.49" y="163.81" width="2.36" height="2.35" fill="#000087"/>
<rect x="542.49" y="154.40" width="2.36" height="2.35" fill="#000087"/>
<rect x="542.49" y="144.99" width="2.36" height="2.35" fill="#000087"/>
<rect x="544.84" y="273.00" width="2.76" height="6.25" fill="#000087"/>
<rect x="544.84" y="220.27" width="2.36" height="2.35" fill="#000087"/>
<rect x="544.84" y="133.23" width="2.36" height="2.35" fill="#000087"/>
<rect x="544.84" y="116.77" width="2.36" height="2.35" fill="#000087"/>
<rect x="547.20" y="273.00" width="2.76" height="13.75" fill="#0000f7"/>
<rect x="547.20" y="135.58" width="2.36" height="2.35" fill="#000087"/>
<rect x="547.20" y="79.13" width="2.36" height="2.35" fill="#000087"/>
<rect x="547.20" y="69.72" width="2.36" height="2.35" fill="#000087"/>
<rect x="549.56" y="260.00" width="2.76" height="19.25" fill="#000087"/>
<rect x="549.56" y="234.39" width="2.36" height="2.35" fill="#000087"/>
<rect x="549.56" y="227.33" width="2.36" height="2.35" fill="#000087"/>
<rect x="549.56" y="88.54" width="2.36" height="2.35" fill="#000087"/>
<rect x="549.56" y="74.42" width="2.36" height="2.35" fill="#000087"/>
<rect x="551.92" y="286.75" width="2.36" height="9.75" fill="#000087"/>
<rect x="551.92" y="268.00" width="2.36" height="11.25" fill="#000087"/>
<rect x="551.92" y="201.45" width="2.36" height="2.35" fill="#000087"/>
<rect x="554.28" y="177.93" width="2.36" height="2.35" fill="#000087"/>
<rect x="554.28" y="152.05" width="2.36" height="2.35" fill="#000087"/>
<rect x="554.28" y="144.99" width="2.36" height="2.35" fill="#000087"/>
<rect x="554.28" y="114.41" width="2.36" height="2.35" fill="#000087"/>
<rect x="556.64" y="140.29" width="2.36" height="2.35" fill="#000087"/>
<rect x="556.64" y="112.06" width="2.36" height="2.35" fill="#000087"/>
<rect x="556.64" y="90.89" width="2.36" height="2.35" fill="#000087"/>
<rect x="561.35" y="232.03" width="2.36" height="2.35" fill="#000087"/>
<rect x="566.07" y="312.00" width="2.36" height="7.00" fill="#000087"/>
<rect x="566.07" y="97.95" width="2.36" height="2.35" fill="#000087"/>
<rect x="566.07" y="65.01" width="2.36" height="2.35" fill="#000087"/>
<rect x="573.15" y="296.50" width="2.76" height="15.50" fill="#000087"/>
<rect x="575.51" y="296.50" width="2.76" height="22.50" fill="#000087"/>
<rect x="575.51" y="286.75" width="2.36" height="10.15" fill="#0000f7"/>
<rect x="577.87" y="296.50" width="2.76" height="22.50" fill="#000087"/>
<rect x="577.87" y="273.00" width="2.76" height="6.25" fill="#000087"/>
<rect x="577.87" y="243.80" width="2.36" height="2.35" fill="#000087"/>
<rect x="577.87" y="227.33" width="2.36" height="7.06" fill="#000087"/>
<rect x="577.87" y="194.39" width="2.76" height="21.17" fill="#000087"/>
<rect x="577.87" y="184.99" width="2.76" height="4.70" fill="#0000f7"/>
<rect x="577.87" y="159.11" width="2.76" height="23.52" fill="#0000f7"/>
<rect x="577.87" y="156.76" width="2.36" height="2.75" fill="#000087"/>
<rect x="577.87" y="144.99" width="2.36" height="2.35" fill="#000087"/>
<rect x="577.87" y="76.77" width="2.36" height="2.35" fill="#000087"/>
<rect x="580.22" y="312.00" width="2.36" height="7.00" fill="#000087"/>
<rect x="580.22" y="296.50" width="2.36" height="15.90" fill="#0068ff"/>
<rect x="580.22" y="286.75" width="2.36" height="10.15" fill="#0000f7"/>
<rect x="580.22" y="273.00" width="2.76" height="14.15" fill="#000087"/>
<rect x="580.22" y="222.62" width="2.36" height="2.35" fill="#000087"/>
<rect x="580.22" y="194.39" width="2.36" height="11.76" fill="#000087"/>
<rect x="580.22" y="184.99" width="2.36" height="4.70" fill="#0000f7"/>
<rect x="580.22" y="159.11" width="2.76" height="23.52" fill="#0000f7"/>
<rect x="580.22" y="149.70" width="2.36" height="2.35" fill="#000087"/>
<rect x="580.22" y="140.29" width="2.36" height="2.35" fill="#000087"/>
<rect x="580.22" y="83.83" width="2.36" height="2.35" fill="#000087"/>
<rect x="582.58" y="279.25" width="2.76" height="7.50" fill="#000087"/>
<rect x="582.58" y="273.00" width="2.76" height="6.65" fill="#0000f7"/>
<rect x="582.58" y="256.70" width="2.36" height="3.30" fill="#000087"/>
<rect x="582.58" y="180.28" width="2.36" height="2.35" fill="#000087"/>
<rect x="584.94" y="273.00" width="2.36" height="13.75" fill="#000087"/>
<rect x="584.94" y="253.70" width="2.36" height="3.00" fill="#000087"/>
<rect x="584.94" y="184.99" width="2.36" height="2.35" fill="#000087"/>
<rect x="584.94" y="154.40" width="2.36" height="2.35" fill="#000087"/>
<rect x="587.30" y="296.50" width="2.36" height="22.50" fill="#000087"/>
<rect x="587.30" y="234.39" width="2.36" height="2.35" fill="#000087"/>
<rect x="587.30" y="229.68" width="2.36" height="2.35" fill="#000087"/>
<rect x="587.30" y="121.47" width="2.76" height="2.35" fill="#000087"/>
<rect x="587.30" y="105.00" width="2.36" height="2.35" fill="#000087"/>
<rect x="587.30" y="69.72" width="2.36" height="2.35" fill="#000087"/>
<rect x="589.66" y="251.00" width="2.36" height="2.70" fill="#000087"/>
<rect x="589.66" y="213.21" width="2.36" height="2.35" fill="#000087"/>
<rect x="589.66" y="166.17" width="2.36" height="2.35" fill="#000087"/>
<rect x="589.66" y="121.47" width="2.36" height="2.35" fill="#000087"/>
<rect x="589.66" y="83.83" width="2.36" height="2.35" fill="#000087"/>
<rect x="589.66" y="65.01" width="2.36" height="2.35" fill="#000087"/>
<rect x="592.02" y="189.69" width="2.36" height="2.35" fill="#000087"/>
<rect x="592.02" y="180.28" width="2.36" height="2.35" fill="#000087"/>
<rect x="592.02" y="114.41" width="2.36" height="2.35" fill="#000087"/>
<rect x="594.38" y="243.80" width="2.36" height="7.20" fill="#000087"/>
<rect x="594.38" y="177.93" width="2.36" height="2.35" fill="#000087"/>
<rect x="594.38" y="60.31" width="2.36" height="2.35" fill="#000087"/>
<rect x="596.74" y="312.00" width="2.36" height="7.00" fill="#000087"/>
<rect x="596.74" y="72.07" width="2.36" height="2.35" fill="#000087"/>
<rect x="599.09" y="206.16" width="2.36" height="2.35" fill="#000087"/>
<rect x="599.09" y="168.52" width="2.36" height="2.35" fill="#000087"/>
<rect x="603.81" y="67.37" width="2.36" height="2.35" fill="#000087"/>
<rect x="606.17" y="312.00" width="2.36" height="7.00" fill="#000087"/>
<rect x="610.89" y="312.00" width="2.76" height="7.00" fill="#000087"/>
<rect x="610.89" y="296.50" width="2.76" height="15.90" fill="#0068ff"/>
<rect x="610.89" y="286.75" width="2.76" height="10.15" fill="#0000f7"/>
<rect x="613.25" y="312.00" width="2.76" height="7.00" fill="#000087"/>
<rect x="613.25" y="296.50" width="2.76" height="15.90" fill="#0068ff"/>
<rect x="613.25" y="286.75" width="2.76" height="10.15" fill="#0028ff"/>
<rect x="615.60" y="312.00" width="2.76" height="7.00" fill="#000087"/>
<rect x="615.60" y="296.50" width="2.76" height="15.90" fill="#0068ff"/>
<rect x="615.60" y="286.75" width="2.76" height="10.15" fill="#0000f7"/>
<rect x="615.60" y="248.50" width="2.36" height="2.50" fill="#000087"/>
<rect x="615.60" y="215.57" width="2.76" height="21.17" fill="#0000f7"/>
<rect x="615.60" y="203.80" width="2.36" height="12.16" fill="#0068ff"/>
<rect x="615.60" y="201.45" width="2.36" height="2.75" fill="#000087"/>
<rect x="615.60" y="194.39" width="2.36" height="2.35" fill="#000087"/>
<rect x="615.60" y="173.22" width="2.36" height="7.06" fill="#000087"/>
<rect x="615.60" y="163.81" width="2.76" height="9.81" fill="#0000b7"/>
<rect x="615.60" y="154.40" width="2.76" height="2.35" fill="#000087"/>
<rect x="615.60" y="135.58" width="2.36" height="2.35" fill="#000087"/>
<rect x="617.96" y="312.00" width="2.36" height="7.00" fill="#000087"/>
<rect x="617.96" y="296.50" width="2.36" height="15.90" fill="#0028ff"/>
<rect x="617.96" y="286.75" width="2.36" height="10.15" fill="#000087"/>
<rect x="617.96" y="215.57" width="2.76" height="21.17" fill="#0000f7"/>
<rect x="617.96" y="199.10" width="2.36" height="2.35" fill="#000087"/>
<rect x="617.96" y="163.81" width="2.36" height="9.41" fill="#0000b7"/>
<rect x="617.96" y="154.40" width="2.36" height="9.81" fill="#000087"/>
<rect x="617.96" y="133.23" width="2.36" height="2.35" fill="#000087"/>
<rect x="617.96" y="114.41" width="2.36" height="2.35" fill="#000087"/>
<rect x="620.32" y="273.00" width="2.76" height="13.75" fill="#000087"/>
<rect x="620.32" y="222.62" width="2.36" height="2.35" fill="#000087"/>
<rect x="620.32" y="142.64" width="2.36" height="2.35" fill="#000087"/>
<rect x="622.68" y="279.25" width="2.36" height="7.50" fill="#000087"/>
<rect x="622.68" y="256.70" width="2.36" height="3.30" fill="#000087"/>
<rect x="625.04" y="236.74" width="2.36" height="2.35" fill="#000087"/>
<rect x="625.04" y="116.77" width="2.36" height="2.35" fill="#000087"/>
<rect x="627.40" y="241.44" width="2.36" height="2.35" fill="#000087"/>
<rect x="627.40" y="210.86" width="2.36" height="2.35" fill="#000087"/>
<rect x="627.40" y="95.59" width="2.36" height="2.35" fill="#000087"/>
<rect x="629.76" y="180.28" width="2.36" height="2.35" fill="#000087"/>
<rect x="632.12" y="133.23" width="2.36" height="2.35" fill="#000087"/>
<rect x="632.12" y="83.83" width="2.36" height="2.35" fill="#000087"/>
<rect x="639.19" y="168.52" width="2.36" height="2.35" fill="#000087"/>
<rect x="641.55" y="170.87" width="2.36" height="2.35" fill="#000087"/>
<rect x="646.27" y="273.00" width="2.76" height="13.75" fill="#000087"/>
<rect x="648.63" y="279.25" width="2.76" height="39.75" fill="#000087"/>
<rect x="650.99" y="279.25" width="2.76" height="32.75" fill="#0000f7"/>
<rect x="653.34" y="296.50" width="2.76" height="22.50" fill="#0000f7"/>
<rect x="653.34" y="286.75" width="2.76" height="10.15" fill="#0028ff"/>
<rect x="653.34" y="279.25" width="2.36" height="7.90" fill="#0000b7"/>
<rect x="653.34" y="253.70" width="2.36" height="3.00" fill="#000087"/>
<rect x="653.34" y="229.68" width="2.36" height="7.06" fill="#0000f7"/>
<rect x="653.34" y="194.39" width="2.36" height="2.35" fill="#000087"/>
<rect x="653.34" y="168.52" width="2.36" height="9.41" fill="#000087"/>
<rect x="655.70" y="312.00" width="2.36" height="7.00" fill="#0000f7"/>
<rect x="655.70" y="286.75" width="2.36" height="25.65" fill="#000087"/>
<rect x="655.70" y="273.00" width="2.76" height="6.25" fill="#000087"/>
<rect x="655.70" y="256.70" width="2.36" height="3.30" fill="#000087"/>
<rect x="655.70" y="248.50" width="2.36" height="5.20" fill="#000087"/>
<rect x="655.70" y="95.59" width="2.36" height="2.35" fill="#000087"/>
<rect x="655.70" y="74.42" width="2.36" height="2.35" fill="#000087"/>
<rect x="655.70" y="67.37" width="2.36" height="2.35" fill="#000087"/>
<rect x="658.06" y="273.00" width="2.36" height="13.75" fill="#000087"/>
<rect x="665.14" y="256.70" width="2.36" height="3.30" fill="#000087"/>
<rect x="665.14" y="232.03" width="2.36" height="2.35" fill="#000087"/>
<rect x="665.14" y="199.10" width="2.36" height="2.35" fill="#000087"/>
<rect x="665.14" y="159.11" width="2.36" height="2.35" fill="#000087"/>
<rect x="665.14" y="147.35" width="2.36" height="2.35" fill="#000087"/>
<rect x="665.14" y="114.41" width="2.36" height="2.35" fill="#000087"/>
<rect x="667.50" y="260.00" width="2.36" height="3.80" fill="#000087"/>
<rect x="669.85" y="215.57" width="2.36" height="7.06" fill="#000087"/>
<rect x="672.21" y="239.09" width="2.36" height="4.70" fill="#000087"/>
<rect x="672.21" y="163.81" width="2.36" height="2.35" fill="#0000f7"/>
<rect x="674.57" y="168.52" width="2.36" height="2.35" fill="#000087"/>
<rect x="674.57" y="149.70" width="2.36" height="2.35" fill="#000087"/>
<rect x="674.57" y="133.23" width="2.36" height="2.35" fill="#000087"/>
<rect x="681.65" y="229.68" width="2.36" height="2.35" fill="#000087"/>
<rect x="681.65" y="192.04" width="2.36" height="7.06" fill="#000087"/>
<rect x="684.01" y="279.25" width="2.76" height="17.25" fill="#000087"/>
<rect x="686.37" y="296.50" width="2.76" height="15.50" fill="#000087"/>
<rect x="686.37" y="286.75" width="2.76" height="10.15" fill="#0000f7"/>
<rect x="686.37" y="279.25" width="2.76" height="7.90" fill="#000087"/>
<rect x="686.37" y="210.86" width="2.36" height="2.35" fill="#000087"/>
<rect x="688.72" y="312.00" width="2.76" height="7.00" fill="#000087"/>
<rect x="688.72" y="296.50" width="2.76" height="15.90" fill="#38ffc7"/>
<rect x="688.72" y="286.75" width="2.76" height="10.15" fill="#00f7ff"/>
<rect x="688.72" y="279.25" width="2.76" height="7.90" fill="#0000f7"/>
<rect x="688.72" y="273.00" width="2.36" height="6.65" fill="#000087"/>
<rect x="688.72" y="243.80" width="2.36" height="2.35" fill="#000087"/>
<rect x="688.72" y="220.27" width="2.36" height="2.35" fill="#000087"/>
<rect x="688.72" y="105.00" width="2.36" height="2.35" fill="#000087"/>
<rect x="691.08" y="312.00" width="2.76" height="7.00" fill="#000087"/>
<rect x="691.08" y="296.50" width="2.76" height="15.90" fill="#0000f7"/>
<rect x="691.08" y="279.25" width="2.36" height="17.65" fill="#000087"/>
<rect x="691.08" y="229.68" width="2.36" height="2.35" fill="#000087"/>
<rect x="691.08" y="163.81" width="2.36" height="2.35" fill="#000087"/>
<rect x="691.08" y="154.40" width="2.36" height="7.06" fill="#000087"/>
<rect x="691.08" y="86.18" width="2.36" height="2.35" fill="#000087"/>
<rect x="693.44" y="296.50" width="2.36" height="22.50" fill="#000087"/>
<rect x="693.44" y="180.28" width="2.76" height="2.35" fill="#000087"/>
<rect x="693.44" y="112.06" width="2.36" height="2.35" fill="#000087"/>
<rect x="695.80" y="286.75" width="2.36" height="9.75" fill="#000087"/>
<rect x="695.80" y="273.00" width="2.36" height="14.15" fill="#0068ff"/>
<rect x="695.80" y="208.51" width="2.36" height="2.35" fill="#000087"/>
<rect x="695.80" y="180.28" width="2.36" height="4.70" fill="#000087"/>
<rect x="695.80" y="149.70" width="2.36" height="2.35" fill="#000087"/>
<rect x="695.80" y="76.77" width="2.36" height="2.35" fill="#000087"/>
<rect x="695.80" y="60.31" width="2.76" height="2.35" fill="#000087"/>
<rect x="698.16" y="251.00" width="2.36" height="2.70" fill="#000087"/>
<rect x="698.16" y="246.15" width="2.36" height="2.35" fill="#000087"/>
<rect x="698.16" y="232.03" width="2.36" height="2.35" fill="#000087"/>
<rect x="698.16" y="79.13" width="2.36" height="2.35" fill="#000087"/>
<rect x="698.16" y="60.31" width="2.36" height="2.35" fill="#000087"/>
<rect x="700.52" y="239.09" width="2.36" height="7.06" fill="#0000f7"/>
<rect x="700.52" y="234.39" width="2.36" height="2.35" fill="#000087"/>
<rect x="700.52" y="227.33" width="2.36" height="2.35" fill="#000087"/>
<rect x="700.52" y="187.34" width="2.36" height="2.35" fill="#000087"/>
<rect x="702.88" y="260.00" width="2.36" height="3.80" fill="#000087"/>
<rect x="702.88" y="168.52" width="2.36" height="2.35" fill="#000087"/>
<rect x="705.24" y="248.50" width="2.36" height="2.50" fill="#000087"/>
<rect x="705.24" y="180.28" width="2.36" height="2.35" fill="#000087"/>
<rect x="705.24" y="161.46" width="2.36" height="2.35" fill="#000087"/>
<rect x="705.24" y="67.37" width="2.36" height="2.35" fill="#000087"/>
<rect x="707.59" y="296.50" width="2.36" height="15.50" fill="#000087"/>
<rect x="707.59" y="236.74" width="2.36" height="2.35" fill="#000087"/>
<rect x="707.59" y="182.63" width="2.36" height="2.35" fill="#000087"/>
<rect x="709.95" y="159.11" width="2.36" height="4.70" fill="#0000f7"/>
<rect x="709.95" y="116.77" width="2.36" height="2.35" fill="#000087"/>
<rect x="709.95" y="79.13" width="2.36" height="2.35" fill="#000087"/>
<rect x="712.31" y="199.10" width="2.36" height="2.35" fill="#000087"/>
<rect x="712.31" y="163.81" width="2.36" height="7.06" fill="#0000f7"/>
<rect x="714.67" y="177.93" width="2.76" height="2.35" fill="#000087"/>
<rect x="714.67" y="173.22" width="2.36" height="2.35" fill="#000087"/>
<rect x="714.67" y="83.83" width="2.36" height="2.35" fill="#000087"/>
<rect x="717.03" y="256.70" width="2.36" height="7.10" fill="#000087"/>
<rect x="717.03" y="175.58" width="2.76" height="4.70" fill="#000087"/>
<rect x="719.39" y="286.75" width="2.36" height="9.75" fill="#000087"/>
<rect x="719.39" y="251.00" width="2.36" height="2.70" fill="#000087"/>
<rect x="719.39" y="175.58" width="2.36" height="4.70" fill="#000087"/>
<rect x="719.39" y="65.01" width="2.36" height="2.35" fill="#000087"/>
<rect x="721.75" y="273.00" width="2.36" height="6.25" fill="#000087"/>
<rect x="721.75" y="229.68" width="2.36" height="2.35" fill="#000087"/>
<rect x="724.11" y="286.75" width="2.76" height="25.25" fill="#000087"/>
<rect x="724.11" y="206.16" width="2.36" height="2.35" fill="#000087"/>
<rect x="724.11" y="182.63" width="2.36" height="2.35" fill="#000087"/>
<rect x="724.11" y="166.17" width="2.36" height="2.35" fill="#000087"/>
<rect x="724.11" y="105.00" width="2.36" height="2.35" fill="#000087"/>
<rect x="726.46" y="286.75" width="2.76" height="9.75" fill="#0000b7"/>
<rect x="726.46" y="279.25" width="2.36" height="7.90" fill="#000087"/>
<rect x="728.82" y="312.00" width="2.36" height="7.00" fill="#000087"/>
<rect x="728.82" y="286.75" width="2.76" height="25.65" fill="#0000f7"/>
<rect x="728.82" y="273.00" width="2.76" height="6.25" fill="#000087"/>
<rect x="728.82" y="239.09" width="2.36" height="4.70" fill="#000087"/>
<rect x="728.82" y="222.62" width="2.76" height="11.76" fill="#0000b7"/>
<rect x="728.82" y="215.57" width="2.76" height="2.35" fill="#000087"/>
<rect x="728.82" y="201.45" width="2.36" height="7.06" fill="#000087"/>
<rect x="728.82" y="166.17" width="2.36" height="2.35" fill="#000087"/>
<rect x="728.82" y="159.11" width="2.36" height="2.35" fill="#000087"/>
<rect x="728.82" y="116.77" width="2.36" height="2.35" fill="#000087"/>
<rect x="728.82" y="81.48" width="2.36" height="2.35" fill="#000087"/>
<rect x="731.18" y="296.50" width="2.36" height="15.50" fill="#0000f7"/>
<rect x="731.18" y="279.25" width="2.36" height="17.65" fill="#0068ff"/>
<rect x="731.18" y="273.00" width="2.76" height="6.65" fill="#000087"/>
<rect x="731.18" y="222.62" width="2.76" height="11.76" fill="#0000b7"/>
<rect x="731.18" y="215.57" width="2.36" height="7.46" fill="#000087"/>
<rect x="731.18" y="189.69" width="2.36" height="2.35" fill="#000087"/>
<rect x="731.18" y="163.81" width="2.36" height="2.35" fill="#000087"/>
<rect x="731.18" y="128.53" width="2.36" height="2.35" fill="#000087"/>
<rect x="733.54" y="273.00" width="2.76" height="6.25" fill="#000087"/>
<rect x="733.54" y="234.39" width="2.36" height="2.35" fill="#000087"/>
<rect x="733.54" y="222.62" width="2.36" height="2.35" fill="#000087"/>
<rect x="733.54" y="168.52" width="2.36" height="2.35" fill="#000087"/>
<rect x="735.90" y="273.00" width="2.36" height="13.75" fill="#000087"/>
<rect x="735.90" y="246.15" width="2.36" height="7.55" fill="#000087"/>
<rect x="735.90" y="208.51" width="2.36" height="2.35" fill="#000087"/>
<rect x="738.26" y="215.57" width="2.36" height="2.35" fill="#000087"/>
<rect x="738.26" y="107.36" width="2.36" height="2.35" fill="#000087"/>
<rect x="740.62" y="161.46" width="2.36" height="2.35" fill="#000087"/>
<rect x="740.62" y="133.23" width="2.36" height="2.35" fill="#000087"/>
<rect x="742.97" y="234.39" width="2.36" height="2.35" fill="#000087"/>
<rect x="742.97" y="184.99" width="2.36" height="2.35" fill="#000087"/>
<rect x="742.97" y="135.58" width="2.36" height="2.35" fill="#000087"/>
<rect x="742.97" y="83.83" width="2.36" height="2.35" fill="#000087"/>
<rect x="745.33" y="187.34" width="2.76" height="2.35" fill="#000087"/>
<rect x="745.33" y="154.40" width="2.36" height="2.35" fill="#000087"/>
<rect x="745.33" y="65.01" width="2.36" height="2.35" fill="#000087"/>
<rect x="747.69" y="194.39" width="2.36" height="2.35" fill="#000087"/>
<rect x="747.69" y="182.63" width="2.76" height="9.41" fill="#0000f7"/>
<rect x="747.69" y="173.22" width="2.36" height="7.06" fill="#0000f7"/>
<rect x="750.05" y="210.86" width="2.36" height="2.35" fill="#000087"/>
<rect x="750.05" y="187.34" width="2.36" height="4.70" fill="#0000f7"/>
<rect x="750.05" y="161.46" width="2.36" height="2.35" fill="#000087"/>
<rect x="750.05" y="119.12" width="2.36" height="2.35" fill="#000087"/>
<rect x="750.05" y="114.41" width="2.36" height="2.35" fill="#000087"/>
<rect x="752.41" y="268.00" width="2.36" height="5.00" fill="#000087"/>
<rect x="752.41" y="213.21" width="2.36" height="2.35" fill="#000087"/>
<rect x="754.77" y="215.57" width="2.36" height="4.70" fill="#000087"/>
<rect x="754.77" y="199.10" width="2.36" height="2.35" fill="#000087"/>
<rect x="754.77" y="194.39" width="2.36" height="2.35" fill="#000087"/>
<rect x="754.77" y="58.50" width="2.36" height="1.81" fill="#000087"/>
<rect x="757.13" y="229.68" width="2.36" height="2.35" fill="#000087"/>
<rect x="757.13" y="196.75" width="2.36" height="2.35" fill="#000087"/>
<rect x="757.13" y="180.28" width="2.36" height="2.35" fill="#0000f7"/>
<rect x="757.13" y="175.58" width="2.36" height="2.35" fill="#000087"/>
<rect x="759.49" y="273.00" width="2.36" height="6.25" fill="#000087"/>
<rect x="759.49" y="199.10" width="2.36" height="2.35" fill="#000087"/>
<rect x="759.49" y="182.63" width="2.36" height="2.35" fill="#000087"/>
<rect x="761.84" y="286.75" width="2.76" height="25.25" fill="#000087"/>
<rect x="761.84" y="159.11" width="2.36" height="2.35" fill="#000087"/>
<rect x="761.84" y="152.05" width="2.36" height="2.35" fill="#000087"/>
<rect x="761.84" y="140.29" width="2.36" height="2.35" fill="#000087"/>
<rect x="764.20" y="286.75" width="2.76" height="32.25" fill="#000087"/>
<rect x="764.20" y="208.51" width="2.76" height="2.35" fill="#000087"/>
<rect x="764.20" y="135.58" width="2.36" height="2.35" fill="#000087"/>
<rect x="766.56" y="312.00" width="2.36" height="7.00" fill="#000087"/>
<rect x="766.56" y="296.50" width="2.76" height="15.90" fill="#0000f7"/>
<rect x="766.56" y="273.00" width="2.76" height="23.90" fill="#000087"/>
<rect x="766.56" y="253.70" width="2.36" height="3.00" fill="#000087"/>
<rect x="766.56" y="206.16" width="2.76" height="30.58" fill="#0028ff"/>
<rect x="766.56" y="201.45" width="2.36" height="5.10" fill="#0068ff"/>
<rect x="766.56" y="194.39" width="2.36" height="2.35" fill="#000087"/>
<rect x="766.56" y="184.99" width="2.36" height="2.35" fill="#000087"/>
<rect x="766.56" y="173.22" width="2.76" height="9.41" fill="#0000f7"/>
<rect x="766.56" y="166.17" width="2.36" height="7.46" fill="#0000b7"/>
<rect x="766.56" y="154.40" width="2.36" height="9.41" fill="#000087"/>
<rect x="766.56" y="128.53" width="2.36" height="2.35" fill="#000087"/>
<rect x="766.56" y="119.12" width="2.36" height="2.35" fill="#000087"/>
<rect x="768.92" y="279.25" width="2.76" height="32.75" fill="#000087"/>
<rect x="768.92" y="206.16" width="2.76" height="30.58" fill="#0028ff"/>
<rect x="768.92" y="199.10" width="2.36" height="2.35" fill="#000087"/>
<rect x="768.92" y="187.34" width="2.36" height="2.35" fill="#000087"/>
<rect x="768.92" y="173.22" width="2.36" height="9.41" fill="#0000f7"/>
<rect x="768.92" y="163.81" width="2.36" height="2.35" fill="#000087"/>
<rect x="768.92" y="93.24" width="2.36" height="2.35" fill="#000087"/>
<rect x="768.92" y="86.18" width="2.36" height="2.35" fill="#000087"/>
<rect x="771.28" y="273.00" width="2.36" height="13.75" fill="#000087"/>
<rect x="771.28" y="224.98" width="2.36" height="2.35" fill="#000087"/>
<rect x="771.28" y="102.65" width="2.36" height="2.35" fill="#000087"/>
<rect x="771.28" y="62.66" width="2.36" height="2.35" fill="#000087"/>
<rect x="773.64" y="312.00" width="2.36" height="7.00" fill="#0000f7"/>
<rect x="773.64" y="248.50" width="2.36" height="2.50" fill="#000087"/>
<rect x="773.64" y="220.27" width="2.36" height="2.35" fill="#000087"/>
<rect x="773.64" y="215.57" width="2.36" height="2.35" fill="#000087"/>
<rect x="773.64" y="210.86" width="2.36" height="2.35" fill="#000087"/>
<rect x="773.64" y="152.05" width="2.36" height="2.35" fill="#000087"/>
<rect x="773.64" y="137.94" width="2.36" height="2.35" fill="#000087"/>
<rect x="776.00" y="260.00" width="2.36" height="3.80" fill="#000087"/>
<rect x="776.00" y="116.77" width="2.36" height="2.35" fill="#000087"/>
<rect x="778.36" y="121.47" width="2.36" height="2.35" fill="#000087"/>
<rect x="778.36" y="58.50" width="2.36" height="1.81" fill="#000087"/>
<rect x="780.71" y="296.50" width="2.36" height="15.50" fill="#000087"/>
<rect x="780.71" y="203.80" width="2.36" height="7.06" fill="#000087"/>
<rect x="780.71" y="177.93" width="2.36" height="2.35" fill="#000087"/>
<rect x="780.71" y="159.11" width="2.36" height="2.35" fill="#000087"/>
<rect x="783.07" y="248.50" width="2.36" height="2.50" fill="#000087"/>
<rect x="823.17" y="253.70" width="2.36" height="3.00" fill="#000087"/>
<rect x="823.17" y="213.21" width="2.36" height="2.35" fill="#000087"/>
<rect x="823.17" y="184.99" width="2.36" height="2.35" fill="#000087"/>
<rect x="823.17" y="173.22" width="2.36" height="2.35" fill="#000087"/>
<rect x="825.53" y="215.57" width="2.36" height="2.35" fill="#000087"/>
<rect x="825.53" y="86.18" width="2.36" height="2.35" fill="#000087"/>
<rect x="827.89" y="227.33" width="2.36" height="2.35" fill="#000087"/>
<rect x="830.25" y="184.99" width="2.36" height="2.35" fill="#000087"/>
<rect x="832.61" y="210.86" width="2.36" height="2.35" fill="#000087"/>
<rect x="834.96" y="154.40" width="2.36" height="2.35" fill="#000087"/>
<rect x="837.32" y="312.00" width="2.36" height="7.00" fill="#000087"/>
<rect x="837.32" y="296.50" width="2.76" height="15.90" fill="#0068ff"/>
<rect x="837.32" y="286.75" width="2.76" height="10.15" fill="#0000f7"/>
<rect x="837.32" y="210.86" width="2.36" height="2.35" fill="#0000f7"/>
<rect x="837.32" y="184.99" width="2.36" height="2.35" fill="#000087"/>
<rect x="839.68" y="296.50" width="2.76" height="15.50" fill="#000087"/>
<rect x="839.68" y="286.75" width="2.36" height="10.15" fill="#0000f7"/>
<rect x="839.68" y="97.95" width="2.36" height="2.35" fill="#000087"/>
<rect x="842.04" y="296.50" width="2.76" height="15.50" fill="#000087"/>
<rect x="842.04" y="273.00" width="2.76" height="6.25" fill="#000087"/>
<rect x="842.04" y="239.09" width="2.36" height="4.70" fill="#000087"/>
<rect x="842.04" y="229.68" width="2.36" height="7.06" fill="#0000f7"/>
<rect x="842.04" y="227.33" width="2.36" height="2.75" fill="#000087"/>
<rect x="842.04" y="222.62" width="2.36" height="2.35" fill="#000087"/>
<rect x="842.04" y="163.81" width="2.36" height="18.82" fill="#0000f7"/>
<rect x="842.04" y="119.12" width="2.36" height="2.35" fill="#000087"/>
<rect x="842.04" y="69.72" width="2.36" height="2.35" fill="#000087"/>
<rect x="844.40" y="312.00" width="2.36" height="7.00" fill="#000087"/>
<rect x="844.40" y="296.50" width="2.36" height="15.90" fill="#0000f7"/>
<rect x="844.40" y="273.00" width="2.76" height="13.75" fill="#000087"/>
<rect x="844.40" y="256.70" width="2.36" height="7.10" fill="#000087"/>
<rect x="844.40" y="154.40" width="2.36" height="2.35" fill="#000087"/>
<rect x="844.40" y="123.82" width="2.36" height="2.35" fill="#000087"/>
<rect x="844.40" y="88.54" width="2.36" height="2.35" fill="#000087"/>
<rect x="844.40" y="83.83" width="2.36" height="2.35" fill="#000087"/>
<rect x="846.76" y="286.75" width="2.76" height="9.75" fill="#000087"/>
<rect x="846.76" y="273.00" width="2.76" height="6.25" fill="#000087"/>
<rect x="846.76" y="236.74" width="2.36" height="2.35" fill="#000087"/>
<rect x="846.76" y="201.45" width="2.36" height="2.35" fill="#000087"/>
<rect x="846.76" y="119.12" width="2.36" height="2.35" fill="#000087"/>
<rect x="846.76" y="112.06" width="2.36" height="2.35" fill="#000087"/>
<rect x="846.76" y="105.00" width="2.36" height="2.35" fill="#000087"/>
<rect x="849.12" y="286.75" width="2.36" height="9.75" fill="#000087"/>
<rect x="849.12" y="279.25" width="2.36" height="7.90" fill="#0000f7"/>
<rect x="849.12" y="273.00" width="2.76" height="6.65" fill="#0028ff"/>
<rect x="849.12" y="222.62" width="2.36" height="2.35" fill="#000087"/>
<rect x="849.12" y="109.71" width="2.36" height="2.35" fill="#000087"/>
<rect x="849.12" y="81.48" width="2.36" height="2.35" fill="#000087"/>
<rect x="849.12" y="74.42" width="2.36" height="2.35" fill="#000087"/>
<rect x="851.47" y="273.00" width="2.36" height="6.25" fill="#000087"/>
<rect x="851.47" y="243.80" width="2.36" height="2.35" fill="#000087"/>
<rect x="851.47" y="79.13" width="2.36" height="2.35" fill="#000087"/>
<rect x="853.83" y="227.33" width="2.36" height="2.35" fill="#000087"/>
<rect x="853.83" y="161.46" width="2.36" height="2.35" fill="#000087"/>
<rect x="853.83" y="154.40" width="2.36" height="2.35" fill="#000087"/>
<rect x="856.19" y="213.21" width="2.36" height="2.35" fill="#000087"/>
<rect x="856.19" y="184.99" width="2.36" height="2.35" fill="#000087"/>
<rect x="856.19" y="144.99" width="2.36" height="2.35" fill="#000087"/>
<rect x="856.19" y="69.72" width="2.36" height="2.35" fill="#000087"/>
</g>
<g stroke="#262626" stroke-width="1" shape-rendering="crispEdges" fill="none">
<rect x="133.5" y="58.5" width="727" height="261"/>
<line x1="133.5" y1="319.5" x2="133.5" y2="327"/>
<line x1="133.5" y1="58.5" x2="133.5" y2="50"/>
<line x1="250.5" y1="319.5" x2="250.5" y2="327"/>
<line x1="250.5" y1="58.5" x2="250.5" y2="50"/>
<line x1="368.5" y1="319.5" x2="368.5" y2="327"/>
<line x1="368.5" y1="58.5" x2="368.5" y2="50"/>
<line x1="486.5" y1="319.5" x2="486.5" y2="327"/>
<line x1="486.5" y1="58.5" x2="486.5" y2="50"/>
<line x1="604.5" y1="319.5" x2="604.5" y2="327"/>
<line x1="604.5" y1="58.5" x2="604.5" y2="50"/>
<line x1="722.5" y1="319.5" x2="722.5" y2="327"/>
<line x1="722.5" y1="58.5" x2="722.5" y2="50"/>
<line x1="840.5" y1="319.5" x2="840.5" y2="327"/>
<line x1="840.5" y1="58.5" x2="840.5" y2="50"/>
<line x1="133.5" y1="315.5" x2="129" y2="315.5"/>
<line x1="860.5" y1="315.5" x2="864.5" y2="315.5"/>
<line x1="133.5" y1="311.5" x2="129" y2="311.5"/>
<line x1="860.5" y1="311.5" x2="864.5" y2="311.5"/>
<line x1="133.5" y1="307.5" x2="129" y2="307.5"/>
<line x1="860.5" y1="307.5" x2="864.5" y2="307.5"/>
<line x1="133.5" y1="304.5" x2="125" y2="304.5"/>
<line x1="860.5" y1="304.5" x2="868.5" y2="304.5"/>
<line x1="133.5" y1="284.5" x2="129" y2="284.5"/>
<line x1="860.5" y1="284.5" x2="864.5" y2="284.5"/>
<line x1="133.5" y1="272.5" x2="129" y2="272.5"/>
<line x1="860.5" y1="272.5" x2="864.5" y2="272.5"/>
<line x1="133.5" y1="263.5" x2="129" y2="263.5"/>
<line x1="860.5" y1="263.5" x2="864.5" y2="263.5"/>
<line x1="133.5" y1="256.5" x2="129" y2="256.5"/>
<line x1="860.5" y1="256.5" x2="864.5" y2="256.5"/>
<line x1="133.5" y1="251.5" x2="129" y2="251.5"/>
<line x1="860.5" y1="251.5" x2="864.5" y2="251.5"/>
<line x1="133.5" y1="246.5" x2="129" y2="246.5"/>
<line x1="860.5" y1="246.5" x2="864.5" y2="246.5"/>
<line x1="133.5" y1="242.5" x2="129" y2="242.5"/>
<line x1="860.5" y1="242.5" x2="864.5" y2="242.5"/>
<line x1="133.5" y1="239.5" x2="129" y2="239.5"/>
<line x1="860.5" y1="239.5" x2="864.5" y2="239.5"/>
<line x1="133.5" y1="236.5" x2="125" y2="236.5"/>
<line x1="860.5" y1="236.5" x2="868.5" y2="236.5"/>
<line x1="133.5" y1="215.5" x2="129" y2="215.5"/>
<line x1="860.5" y1="215.5" x2="864.5" y2="215.5"/>
<line x1="133.5" y1="203.5" x2="129" y2="203.5"/>
<line x1="860.5" y1="203.5" x2="864.5" y2="203.5"/>
<line x1="133.5" y1="195.5" x2="129" y2="195.5"/>
<line x1="860.5" y1="195.5" x2="864.5" y2="195.5"/>
<line x1="133.5" y1="188.5" x2="129" y2="188.5"/>
<line x1="860.5" y1="188.5" x2="864.5" y2="188.5"/>
<line x1="133.5" y1="182.5" x2="129" y2="182.5"/>
<line x1="860.5" y1="182.5" x2="864.5" y2="182.5"/>
<line x1="133.5" y1="178.5" x2="129" y2="178.5"/>
<line x1="860.5" y1="178.5" x2="864.5" y2="178.5"/>
<line x1="133.5" y1="174.5" x2="129" y2="174.5"/>
<line x1="860.5" y1="174.5" x2="864.5" y2="174.5"/>
<line x1="133.5" y1="170.5" x2="129" y2="170.5"/>
<line x1="860.5" y1="170.5" x2="864.5" y2="170.5"/>
<line x1="133.5" y1="167.5" x2="125" y2="167.5"/>
<line x1="860.5" y1="167.5" x2="868.5" y2="167.5"/>
<line x1="133.5" y1="147.5" x2="129" y2="147.5"/>
<line x1="860.5" y1="147.5" x2="864.5" y2="147.5"/>
<line x1="133.5" y1="135.5" x2="129" y2="135.5"/>
<line x1="860.5" y1="135.5" x2="864.5" y2="135.5"/>
<line x1="133.5" y1="126.5" x2="129" y2="126.5"/>
<line x1="860.5" y1="126.5" x2="864.5" y2="126.5"/>
<line x1="133.5" y1="119.5" x2="129" y2="119.5"/>
<line x1="860.5" y1="119.5" x2="864.5" y2="119.5"/>
<line x1="133.5" y1="114.5" x2="129" y2="114.5"/>
<line x1="860.5" y1="114.5" x2="864.5" y2="114.5"/>
<line x1="133.5" y1="109.5" x2="129" y2="109.5"/>
<line x1="860.5" y1="109.5" x2="864.5" y2="109.5"/>
<line x1="133.5" y1="105.5" x2="129" y2="105.5"/>
<line x1="860.5" y1="105.5" x2="864.5" y2="105.5"/>
<line x1="133.5" y1="102.5" x2="129" y2="102.5"/>
<line x1="860.5" y1="102.5" x2="864.5" y2="102.5"/>
<line x1="133.5" y1="99.5" x2="125" y2="99.5"/>
<line x1="860.5" y1="99.5" x2="868.5" y2="99.5"/>
<line x1="133.5" y1="78.5" x2="129" y2="78.5"/>
<line x1="860.5" y1="78.5" x2="864.5" y2="78.5"/>
<line x1="133.5" y1="66.5" x2="129" y2="66.5"/>
<line x1="860.5" y1="66.5" x2="864.5" y2="66.5"/>
<line x1="133.5" y1="58.5" x2="129" y2="58.5"/>
<line x1="860.5" y1="58.5" x2="864.5" y2="58.5"/>
</g>
<g shape-rendering="crispEdges">
<rect x="875.5" y="58.5" width="23" height="261" fill="url(#jet)" stroke="#262626"/>
<line x1="898.5" y1="267.5" x2="895.5" y2="267.5" stroke="#262626"/>
<line x1="898.5" y1="215.5" x2="895.5" y2="215.5" stroke="#262626"/>
<line x1="898.5" y1="162.5" x2="895.5" y2="162.5" stroke="#262626"/>
<line x1="898.5" y1="110.5" x2="895.5" y2="110.5" stroke="#262626"/>
</g>
<text x="132.8" y="351" font-size="17.8" text-anchor="middle" fill="#262626">23:00</text>
<text x="250.63" y="351" font-size="17.8" text-anchor="middle" fill="#262626">23:10</text>
<text x="368.47" y="351" font-size="17.8" text-anchor="middle" fill="#262626">23:20</text>
<text x="486.3" y="351" font-size="17.8" text-anchor="middle" fill="#262626">23:30</text>
<text x="604.13" y="351" font-size="17.8" text-anchor="middle" fill="#262626">23:40</text>
<text x="721.97" y="351" font-size="17.8" text-anchor="middle" fill="#262626">23:50</text>
<text x="839.8" y="351" font-size="17.8" text-anchor="middle" fill="#262626">00:00</text>
<text x="90" y="310.2" font-size="18.0" text-anchor="middle" fill="#262626">10</text>
<text x="90" y="241.70000000000002" font-size="18.0" text-anchor="middle" fill="#262626">100</text>
<text x="90" y="173.20000000000002" font-size="18.0" text-anchor="middle" fill="#262626">1000</text>
<text x="90" y="104.7" font-size="18.0" text-anchor="middle" fill="#262626">10000</text>
<text x="904.8" y="324.5" font-size="18.0" text-anchor="start" fill="#262626">0</text>
<text x="904.8" y="272.3" font-size="18.0" text-anchor="start" fill="#262626">1</text>
<text x="904.8" y="220.1" font-size="18.0" text-anchor="start" fill="#262626">2</text>
<text x="904.8" y="167.89999999999998" font-size="18.0" text-anchor="start" fill="#262626">3</text>
<text x="904.8" y="115.69999999999999" font-size="18.0" text-anchor="start" fill="#262626">4</text>
<text x="904.8" y="63.5" font-size="18.0" text-anchor="start" fill="#262626">5</text>
<text x="496.5" y="376" font-size="20" text-anchor="middle" fill="#262626">Time</text>
<text x="52" y="189.0" font-size="20" text-anchor="middle" transform="rotate(-90 52 189.0)" fill="#262626">Energy (eV)</text>
<text x="887.5" y="46.8" font-size="18.2" text-anchor="middle" fill="#000">Log counts</text>
<text x="497.2" y="48.4" font-size="19.8" text-anchor="middle" font-weight="bold" fill="#000">Solar Wind Ions</text>
<g>
<rect x="134.43" y="591.33" width="2.36" height="16.47" fill="#0000f7"/>
<rect x="136.79" y="627.80" width="2.36" height="4.20" fill="#000087"/>
<rect x="141.51" y="603.09" width="2.36" height="7.06" fill="#0000f7"/>
<rect x="158.02" y="660.50" width="2.76" height="15.50" fill="#00b7ff"/>
<rect x="158.02" y="643.25" width="2.76" height="17.65" fill="#68ff97"/>
<rect x="158.02" y="637.00" width="2.36" height="6.65" fill="#0068ff"/>
<rect x="160.38" y="676.00" width="2.76" height="7.00" fill="#00b7ff"/>
<rect x="160.38" y="650.75" width="2.76" height="25.65" fill="#a7ff58"/>
<rect x="160.38" y="643.25" width="2.36" height="7.90" fill="#0068ff"/>
<rect x="162.73" y="676.00" width="2.76" height="7.00" fill="#0068ff"/>
<rect x="162.73" y="650.75" width="2.76" height="25.65" fill="#000087"/>
<rect x="162.73" y="637.00" width="2.76" height="6.25" fill="#000087"/>
<rect x="162.73" y="617.70" width="2.76" height="19.70" fill="#0068ff"/>
<rect x="162.73" y="603.09" width="2.76" height="15.01" fill="#00f7ff"/>
<rect x="162.73" y="579.57" width="2.76" height="23.92" fill="#0068ff"/>
<rect x="162.73" y="577.21" width="2.76" height="2.75" fill="#00f7ff"/>
<rect x="162.73" y="560.75" width="2.36" height="16.87" fill="#0068ff"/>
<rect x="162.73" y="553.69" width="2.36" height="7.46" fill="#0000f7"/>
<rect x="162.73" y="546.63" width="2.36" height="2.35" fill="#000087"/>
<rect x="165.09" y="676.00" width="2.36" height="7.00" fill="#0068ff"/>
<rect x="165.09" y="660.50" width="2.36" height="15.90" fill="#68ff97"/>
<rect x="165.09" y="650.75" width="2.76" height="10.15" fill="#00f7ff"/>
<rect x="165.09" y="643.25" width="2.76" height="7.90" fill="#00b7ff"/>
<rect x="165.09" y="637.00" width="2.76" height="6.65" fill="#0068ff"/>
<rect x="165.09" y="627.80" width="2.76" height="9.60" fill="#000087"/>
<rect x="165.09" y="617.70" width="2.76" height="10.50" fill="#0000b7"/>
<rect x="165.09" y="591.33" width="2.36" height="16.47" fill="#0000b7"/>
<rect x="165.09" y="584.27" width="2.36" height="2.35" fill="#000087"/>
<rect x="165.09" y="577.21" width="2.36" height="2.35" fill="#000087"/>
<rect x="167.45" y="650.75" width="2.76" height="9.75" fill="#0000f7"/>
<rect x="167.45" y="624.00" width="2.76" height="27.15" fill="#00b7ff"/>
<rect x="167.45" y="508.99" width="2.36" height="2.35" fill="#0000f7"/>
<rect x="169.81" y="650.75" width="2.36" height="9.75" fill="#000087"/>
<rect x="169.81" y="643.25" width="2.36" height="7.90" fill="#0068ff"/>
<rect x="169.81" y="603.09" width="2.76" height="40.56" fill="#00b7ff"/>
<rect x="172.17" y="607.80" width="2.76" height="2.35" fill="#000087"/>
<rect x="174.53" y="632.00" width="2.36" height="5.00" fill="#0000f7"/>
<rect x="174.53" y="607.80" width="2.36" height="24.60" fill="#0068ff"/>
<rect x="174.53" y="603.09" width="2.76" height="5.10" fill="#0000f7"/>
<rect x="176.89" y="603.09" width="2.76" height="4.70" fill="#0000f7"/>
<rect x="179.25" y="617.70" width="2.36" height="3.00" fill="#000087"/>
<rect x="179.25" y="603.09" width="2.36" height="9.41" fill="#0068ff"/>
<rect x="195.76" y="676.00" width="2.36" height="7.00" fill="#0000f7"/>
<rect x="195.76" y="650.75" width="2.76" height="25.65" fill="#38ffc7"/>
<rect x="195.76" y="643.25" width="2.76" height="7.90" fill="#0000f7"/>
<rect x="198.11" y="660.50" width="2.76" height="15.50" fill="#38ffc7"/>
<rect x="198.11" y="650.75" width="2.76" height="10.15" fill="#e7ff18"/>
<rect x="198.11" y="643.25" width="2.76" height="7.90" fill="#a7ff58"/>
<rect x="198.11" y="637.00" width="2.36" height="6.65" fill="#0000f7"/>
<rect x="198.11" y="581.92" width="2.76" height="2.35" fill="#000087"/>
<rect x="200.47" y="676.00" width="2.76" height="7.00" fill="#0068ff"/>
<rect x="200.47" y="650.75" width="2.76" height="25.65" fill="#38ffc7"/>
<rect x="200.47" y="643.25" width="2.76" height="7.90" fill="#000087"/>
<rect x="200.47" y="600.74" width="2.76" height="36.26" fill="#0068ff"/>
<rect x="200.47" y="591.33" width="2.76" height="9.81" fill="#0000f7"/>
<rect x="200.47" y="588.98" width="2.36" height="2.75" fill="#0068ff"/>
<rect x="200.47" y="577.21" width="2.76" height="12.16" fill="#0000f7"/>
<rect x="200.47" y="570.16" width="2.76" height="7.46" fill="#0068ff"/>
<rect x="200.47" y="560.75" width="2.76" height="9.81" fill="#00b7ff"/>
<rect x="200.47" y="556.04" width="2.36" height="5.10" fill="#0068ff"/>
<rect x="200.47" y="551.34" width="2.36" height="2.35" fill="#0000f7"/>
<rect x="200.47" y="546.63" width="2.36" height="2.35" fill="#000087"/>
<rect x="202.83" y="676.00" width="2.36" height="7.00" fill="#00b7ff"/>
<rect x="202.83" y="643.25" width="2.76" height="33.15" fill="#a7ff58"/>
<rect x="202.83" y="637.00" width="2.36" height="6.65" fill="#0028ff"/>
<rect x="202.83" y="632.00" width="2.76" height="5.40" fill="#000087"/>
<rect x="202.83" y="617.70" width="2.76" height="10.10" fill="#000087"/>
<rect x="202.83" y="612.50" width="2.76" height="5.60" fill="#0068ff"/>
<rect x="202.83" y="607.80" width="2.76" height="5.10" fill="#000087"/>
<rect x="202.83" y="603.09" width="2.76" height="5.10" fill="#0068ff"/>
<rect x="202.83" y="591.33" width="2.36" height="9.41" fill="#0000b7"/>
<rect x="202.83" y="577.21" width="2.36" height="2.35" fill="#000087"/>
<rect x="202.83" y="572.51" width="2.36" height="2.35" fill="#000087"/>
<rect x="202.83" y="563.10" width="2.36" height="4.70" fill="#0000b7"/>
<rect x="205.19" y="643.25" width="2.76" height="17.25" fill="#000087"/>
<rect x="205.19" y="615.00" width="2.76" height="22.00" fill="#0068ff"/>
<rect x="205.19" y="607.80" width="2.76" height="7.60" fill="#0000f7"/>
<rect x="205.19" y="603.09" width="2.76" height="5.10" fill="#0068ff"/>
<rect x="205.19" y="501.94" width="2.36" height="2.35" fill="#000087"/>
<rect x="207.55" y="643.25" width="2.36" height="7.50" fill="#000087"/>
<rect x="207.55" y="637.00" width="2.36" height="6.65" fill="#0000f7"/>
<rect x="207.55" y="620.70" width="2.76" height="3.30" fill="#000087"/>
<rect x="207.55" y="612.50" width="2.36" height="8.60" fill="#0000f7"/>
<rect x="207.55" y="607.80" width="2.76" height="5.10" fill="#0068ff"/>
<rect x="207.55" y="603.09" width="2.76" height="5.10" fill="#0000f7"/>
<rect x="209.91" y="620.70" width="2.76" height="3.30" fill="#000087"/>
<rect x="209.91" y="610.15" width="2.76" height="2.35" fill="#0068ff"/>
<rect x="209.91" y="607.80" width="2.76" height="2.75" fill="#0000f7"/>
<rect x="209.91" y="603.09" width="2.76" height="5.10" fill="#0068ff"/>
<rect x="212.27" y="607.80" width="2.76" height="20.00" fill="#0068ff"/>
<rect x="212.27" y="603.09" width="2.76" height="5.10" fill="#0000f7"/>
<rect x="214.63" y="607.80" width="2.76" height="20.00" fill="#0068ff"/>
<rect x="214.63" y="603.09" width="2.76" height="5.10" fill="#000087"/>
<rect x="216.98" y="615.00" width="2.36" height="2.70" fill="#000087"/>
<rect x="216.98" y="603.09" width="2.36" height="4.70" fill="#0000f7"/>
<rect x="231.14" y="643.25" width="2.76" height="17.25" fill="#0068ff"/>
<rect x="231.14" y="637.00" width="2.36" height="6.65" fill="#0000f7"/>
<rect x="233.50" y="676.00" width="2.76" height="7.00" fill="#0068ff"/>
<rect x="233.50" y="660.50" width="2.76" height="15.90" fill="#68ff97"/>
<rect x="233.50" y="650.75" width="2.76" height="10.15" fill="#38ffc7"/>
<rect x="235.85" y="676.00" width="2.76" height="7.00" fill="#0068ff"/>
<rect x="235.85" y="660.50" width="2.76" height="15.90" fill="#68ff97"/>
<rect x="235.85" y="650.75" width="2.76" height="10.15" fill="#38ffc7"/>
<rect x="235.85" y="643.25" width="2.76" height="7.90" fill="#0000f7"/>
<rect x="238.21" y="676.00" width="2.76" height="7.00" fill="#0000f7"/>
<rect x="238.21" y="660.50" width="2.76" height="15.90" fill="#68ff97"/>
<rect x="238.21" y="650.75" width="2.76" height="10.15" fill="#38ffc7"/>
<rect x="238.21" y="637.00" width="2.76" height="14.15" fill="#0000f7"/>
<rect x="238.21" y="627.80" width="2.76" height="9.60" fill="#0068ff"/>
<rect x="238.21" y="617.70" width="2.76" height="10.50" fill="#00f7ff"/>
<rect x="238.21" y="603.09" width="2.76" height="15.01" fill="#0068ff"/>
<rect x="238.21" y="596.03" width="2.36" height="2.35" fill="#000087"/>
<rect x="238.21" y="577.21" width="2.36" height="16.47" fill="#0000f7"/>
<rect x="238.21" y="565.45" width="2.36" height="12.16" fill="#0068ff"/>
<rect x="238.21" y="558.39" width="2.36" height="7.46" fill="#00b7ff"/>
<rect x="238.21" y="548.99" width="2.36" height="9.81" fill="#0000f7"/>
<rect x="240.57" y="676.00" width="2.36" height="7.00" fill="#00f7ff"/>
<rect x="240.57" y="660.50" width="2.36" height="15.90" fill="#a7ff58"/>
<rect x="240.57" y="650.75" width="2.76" height="10.15" fill="#38ffc7"/>
<rect x="240.57" y="637.00" width="2.76" height="14.15" fill="#0068ff"/>
<rect x="240.57" y="627.80" width="2.76" height="9.60" fill="#0000f7"/>
<rect x="240.57" y="610.15" width="2.76" height="10.55" fill="#000087"/>
<rect x="240.57" y="508.99" width="2.36" height="2.35" fill="#000087"/>
<rect x="242.93" y="650.75" width="2.36" height="9.75" fill="#000087"/>
<rect x="242.93" y="643.25" width="2.76" height="7.90" fill="#0068ff"/>
<rect x="242.93" y="617.70" width="2.76" height="19.30" fill="#0068ff"/>
<rect x="242.93" y="612.50" width="2.76" height="5.60" fill="#0000f7"/>
<rect x="242.93" y="607.80" width="2.76" height="5.10" fill="#000087"/>
<rect x="242.93" y="513.70" width="2.36" height="2.35" fill="#000087"/>
<rect x="245.29" y="643.25" width="2.36" height="7.50" fill="#000087"/>
<rect x="245.29" y="627.80" width="2.36" height="9.20" fill="#0000f7"/>
<rect x="245.29" y="624.00" width="2.76" height="4.20" fill="#000087"/>
<rect x="245.29" y="612.50" width="2.76" height="11.90" fill="#0068ff"/>
<rect x="245.29" y="607.80" width="2.76" height="5.10" fill="#0000b7"/>
<rect x="245.29" y="603.09" width="2.76" height="5.10" fill="#0000f7"/>
<rect x="247.65" y="620.70" width="2.76" height="7.10" fill="#0000f7"/>
<rect x="247.65" y="607.80" width="2.36" height="2.35" fill="#000087"/>
<rect x="247.65" y="603.09" width="2.76" height="5.10" fill="#0000f7"/>
<rect x="250.01" y="617.70" width="2.36" height="19.30" fill="#0000f7"/>
<rect x="250.01" y="603.09" width="2.36" height="4.70" fill="#000087"/>
<rect x="250.01" y="464.30" width="2.36" height="2.35" fill="#000087"/>
<rect x="254.72" y="588.98" width="2.36" height="2.35" fill="#000087"/>
<rect x="271.23" y="660.50" width="2.76" height="22.50" fill="#68ff97"/>
<rect x="271.23" y="650.75" width="2.76" height="10.15" fill="#000087"/>
<rect x="273.59" y="676.00" width="2.76" height="7.00" fill="#0068ff"/>
<rect x="273.59" y="660.50" width="2.76" height="15.90" fill="#a7ff58"/>
<rect x="273.59" y="650.75" width="2.76" height="10.15" fill="#68ff97"/>
<rect x="273.59" y="643.25" width="2.76" height="7.90" fill="#00b7ff"/>
<rect x="273.59" y="637.00" width="2.76" height="6.65" fill="#0000f7"/>
<rect x="273.59" y="627.80" width="2.76" height="9.60" fill="#00b7ff"/>
<rect x="275.95" y="676.00" width="2.76" height="7.00" fill="#00f7ff"/>
<rect x="275.95" y="660.50" width="2.76" height="15.90" fill="#68ff97"/>
<rect x="275.95" y="650.75" width="2.76" height="10.15" fill="#00f7ff"/>
<rect x="275.95" y="643.25" width="2.76" height="7.90" fill="#0068ff"/>
<rect x="275.95" y="637.00" width="2.76" height="6.65" fill="#0000f7"/>
<rect x="275.95" y="620.70" width="2.76" height="16.70" fill="#00b7ff"/>
<rect x="275.95" y="615.00" width="2.76" height="6.10" fill="#0000f7"/>
<rect x="275.95" y="603.09" width="2.76" height="9.41" fill="#0000b7"/>
<rect x="275.95" y="567.80" width="2.36" height="2.35" fill="#000087"/>
<rect x="275.95" y="504.29" width="2.76" height="11.76" fill="#0000f7"/>
<rect x="278.31" y="676.00" width="2.36" height="7.00" fill="#00f7ff"/>
<rect x="278.31" y="660.50" width="2.36" height="15.90" fill="#68ff97"/>
<rect x="278.31" y="650.75" width="2.76" height="10.15" fill="#00f7ff"/>
<rect x="278.31" y="643.25" width="2.76" height="7.90" fill="#0068ff"/>
<rect x="278.31" y="627.80" width="2.76" height="15.85" fill="#0000f7"/>
<rect x="278.31" y="607.80" width="2.76" height="20.40" fill="#00f7ff"/>
<rect x="278.31" y="603.09" width="2.76" height="5.10" fill="#000087"/>
<rect x="278.31" y="593.68" width="2.36" height="9.81" fill="#0000f7"/>
<rect x="278.31" y="588.98" width="2.36" height="2.35" fill="#000087"/>
<rect x="278.31" y="516.05" width="2.36" height="2.35" fill="#000087"/>
<rect x="278.31" y="504.29" width="2.36" height="2.35" fill="#0000f7"/>
<rect x="280.67" y="650.75" width="2.76" height="9.75" fill="#00b7ff"/>
<rect x="280.67" y="637.00" width="2.76" height="14.15" fill="#00f7ff"/>
<rect x="280.67" y="627.80" width="2.76" height="9.60" fill="#0068ff"/>
<rect x="280.67" y="617.70" width="2.76" height="10.50" fill="#0000f7"/>
<rect x="280.67" y="607.80" width="2.76" height="10.30" fill="#0068ff"/>
<rect x="280.67" y="603.09" width="2.36" height="5.10" fill="#0000f7"/>
<rect x="280.67" y="567.80" width="2.36" height="2.35" fill="#000087"/>
<rect x="283.03" y="620.70" width="2.36" height="39.80" fill="#0068ff"/>
<rect x="283.03" y="617.70" width="2.36" height="3.40" fill="#000087"/>
<rect x="283.03" y="610.15" width="2.36" height="2.35" fill="#000087"/>
<rect x="287.75" y="624.00" width="2.36" height="8.00" fill="#000087"/>
<rect x="287.75" y="607.80" width="2.36" height="7.20" fill="#0000f7"/>
<rect x="299.54" y="577.21" width="2.36" height="2.35" fill="#000087"/>
<rect x="308.97" y="660.50" width="2.76" height="22.50" fill="#68ff97"/>
<rect x="308.97" y="650.75" width="2.76" height="10.15" fill="#0068ff"/>
<rect x="311.33" y="676.00" width="2.76" height="7.00" fill="#000087"/>
<rect x="311.33" y="650.75" width="2.76" height="25.65" fill="#68ff97"/>
<rect x="311.33" y="643.25" width="2.76" height="7.90" fill="#00b7ff"/>
<rect x="313.69" y="676.00" width="2.76" height="7.00" fill="#00f7ff"/>
<rect x="313.69" y="660.50" width="2.76" height="15.90" fill="#a7ff58"/>
<rect x="313.69" y="650.75" width="2.76" height="10.15" fill="#68ff97"/>
<rect x="313.69" y="643.25" width="2.76" height="7.90" fill="#00b7ff"/>
<rect x="313.69" y="603.09" width="2.76" height="40.56" fill="#0000f7"/>
<rect x="313.69" y="586.62" width="2.36" height="2.35" fill="#000087"/>
<rect x="313.69" y="579.57" width="2.36" height="2.35" fill="#000087"/>
<rect x="313.69" y="567.80" width="2.36" height="2.35" fill="#000087"/>
<rect x="313.69" y="553.69" width="2.36" height="4.70" fill="#000087"/>
<rect x="313.69" y="537.22" width="2.36" height="16.87" fill="#0068ff"/>
<rect x="313.69" y="525.46" width="2.76" height="12.16" fill="#0028ff"/>
<rect x="313.69" y="513.70" width="2.76" height="12.16" fill="#0068ff"/>
<rect x="313.69" y="506.64" width="2.76" height="7.46" fill="#0000f7"/>
<rect x="316.05" y="676.00" width="2.36" height="7.00" fill="#00f7ff"/>
<rect x="316.05" y="660.50" width="2.36" height="15.90" fill="#68ff97"/>
<rect x="316.05" y="650.75" width="2.76" height="10.15" fill="#38ffc7"/>
<rect x="316.05" y="632.00" width="2.76" height="19.15" fill="#00f7ff"/>
<rect x="316.05" y="610.15" width="2.76" height="22.25" fill="#0028ff"/>
<rect x="316.05" y="603.09" width="2.76" height="7.46" fill="#0000f7"/>
<rect x="316.05" y="565.45" width="2.36" height="2.35" fill="#000087"/>
<rect x="316.05" y="527.81" width="2.36" height="9.41" fill="#0000f7"/>
<rect x="316.05" y="516.05" width="2.36" height="4.70" fill="#0000b7"/>
<rect x="316.05" y="504.29" width="2.36" height="9.41" fill="#0000b7"/>
<rect x="318.41" y="632.00" width="2.76" height="28.50" fill="#00f7ff"/>
<rect x="318.41" y="624.00" width="2.76" height="8.40" fill="#0068ff"/>
<rect x="318.41" y="610.15" width="2.76" height="14.25" fill="#0028ff"/>
<rect x="318.41" y="603.09" width="2.76" height="7.46" fill="#0000f7"/>
<rect x="320.77" y="650.75" width="2.36" height="9.75" fill="#0000f7"/>
<rect x="320.77" y="637.00" width="2.76" height="14.15" fill="#0068ff"/>
<rect x="320.77" y="624.00" width="2.76" height="13.40" fill="#000087"/>
<rect x="320.77" y="617.70" width="2.36" height="6.70" fill="#0000f7"/>
<rect x="320.77" y="603.09" width="2.76" height="9.41" fill="#000087"/>
<rect x="323.13" y="632.00" width="2.76" height="11.25" fill="#00b7ff"/>
<rect x="323.13" y="624.00" width="2.76" height="8.40" fill="#0000f7"/>
<rect x="323.13" y="603.09" width="2.76" height="9.41" fill="#000087"/>
<rect x="325.48" y="627.80" width="2.36" height="9.20" fill="#000087"/>
<rect x="325.48" y="620.70" width="2.36" height="7.50" fill="#00b7ff"/>
<rect x="325.48" y="615.00" width="2.36" height="6.10" fill="#0000f7"/>
<rect x="325.48" y="603.09" width="2.36" height="7.06" fill="#000087"/>
<rect x="332.56" y="579.57" width="2.36" height="2.35" fill="#000087"/>
<rect x="334.92" y="598.39" width="2.36" height="2.35" fill="#000087"/>
<rect x="339.64" y="591.33" width="2.36" height="2.35" fill="#000087"/>
<rect x="344.35" y="660.50" width="2.76" height="15.50" fill="#000087"/>
<rect x="344.35" y="650.75" width="2.76" height="10.15" fill="#38ffc7"/>
<rect x="344.35" y="643.25" width="2.76" height="7.90" fill="#00b7ff"/>
<rect x="346.71" y="676.00" width="2.76" height="7.00" fill="#0068ff"/>
<rect x="346.71" y="650.75" width="2.76" height="25.65" fill="#68ff97"/>
<rect x="346.71" y="637.00" width="2.76" height="14.15" fill="#000087"/>
<rect x="349.07" y="676.00" width="2.76" height="7.00" fill="#0000f7"/>
<rect x="349.07" y="650.75" width="2.76" height="25.65" fill="#e7ff18"/>
<rect x="349.07" y="643.25" width="2.76" height="7.90" fill="#00f7ff"/>
<rect x="349.07" y="615.00" width="2.76" height="2.70" fill="#000087"/>
<rect x="349.07" y="525.46" width="2.76" height="2.35" fill="#000087"/>
<rect x="351.43" y="676.00" width="2.76" height="7.00" fill="#0068ff"/>
<rect x="351.43" y="650.75" width="2.76" height="25.65" fill="#68ff97"/>
<rect x="351.43" y="643.25" width="2.76" height="7.90" fill="#00f7ff"/>
<rect x="351.43" y="627.80" width="2.76" height="15.85" fill="#0068ff"/>
<rect x="351.43" y="607.80" width="2.76" height="20.40" fill="#0000f7"/>
<rect x="351.43" y="572.51" width="2.36" height="2.35" fill="#000087"/>
<rect x="351.43" y="560.75" width="2.36" height="2.35" fill="#000087"/>
<rect x="351.43" y="548.99" width="2.36" height="4.70" fill="#0000b7"/>
<rect x="351.43" y="541.93" width="2.36" height="2.35" fill="#000087"/>
<rect x="351.43" y="537.22" width="2.36" height="2.35" fill="#000087"/>
<rect x="351.43" y="532.52" width="2.36" height="5.10" fill="#0068ff"/>
<rect x="351.43" y="525.46" width="2.36" height="4.70" fill="#000087"/>
<rect x="351.43" y="508.99" width="2.36" height="16.87" fill="#0068ff"/>
<rect x="351.43" y="506.64" width="2.36" height="2.75" fill="#000087"/>
<rect x="353.79" y="676.00" width="2.36" height="7.00" fill="#0000f7"/>
<rect x="353.79" y="650.75" width="2.76" height="25.65" fill="#68ff97"/>
<rect x="353.79" y="643.25" width="2.76" height="7.90" fill="#00f7ff"/>
<rect x="353.79" y="637.00" width="2.76" height="6.65" fill="#0068ff"/>
<rect x="353.79" y="603.09" width="2.76" height="7.06" fill="#0000f7"/>
<rect x="353.79" y="600.74" width="2.36" height="2.75" fill="#000087"/>
<rect x="356.15" y="650.75" width="2.36" height="9.75" fill="#0000f7"/>
<rect x="356.15" y="643.25" width="2.36" height="7.90" fill="#0068ff"/>
<rect x="356.15" y="637.00" width="2.76" height="6.65" fill="#0000f7"/>
<rect x="356.15" y="603.09" width="2.76" height="28.91" fill="#0000f7"/>
<rect x="356.15" y="596.03" width="2.36" height="2.35" fill="#000087"/>
<rect x="356.15" y="581.92" width="2.36" height="4.70" fill="#000087"/>
<rect x="358.51" y="637.00" width="2.36" height="6.25" fill="#0000f7"/>
<rect x="358.51" y="627.80" width="2.36" height="9.60" fill="#00b7ff"/>
<rect x="358.51" y="617.70" width="2.76" height="10.50" fill="#0000f7"/>
<rect x="358.51" y="607.80" width="2.76" height="10.30" fill="#0068ff"/>
<rect x="358.51" y="603.09" width="2.76" height="5.10" fill="#0000f7"/>
<rect x="358.51" y="570.16" width="2.36" height="2.35" fill="#000087"/>
<rect x="360.87" y="617.70" width="2.36" height="10.10" fill="#0000f7"/>
<rect x="360.87" y="607.80" width="2.36" height="4.70" fill="#0000f7"/>
<rect x="360.87" y="603.09" width="2.76" height="5.10" fill="#00f7ff"/>
<rect x="360.87" y="600.74" width="2.36" height="2.75" fill="#000087"/>
<rect x="360.87" y="591.33" width="2.36" height="2.35" fill="#000087"/>
<rect x="363.22" y="603.09" width="2.36" height="4.70" fill="#000087"/>
<rect x="363.22" y="567.80" width="2.36" height="2.35" fill="#000087"/>
<rect x="365.58" y="607.80" width="2.36" height="2.35" fill="#000087"/>
<rect x="367.94" y="603.09" width="2.36" height="4.70" fill="#000087"/>
<rect x="367.94" y="593.68" width="2.36" height="2.35" fill="#000087"/>
<rect x="384.45" y="676.00" width="2.36" height="7.00" fill="#0068ff"/>
<rect x="384.45" y="650.75" width="2.76" height="25.65" fill="#68ff97"/>
<rect x="384.45" y="643.25" width="2.76" height="7.90" fill="#000087"/>
<rect x="386.81" y="660.50" width="2.76" height="15.50" fill="#000087"/>
<rect x="386.81" y="650.75" width="2.76" height="10.15" fill="#68ff97"/>
<rect x="386.81" y="643.25" width="2.76" height="7.90" fill="#00f7ff"/>
<rect x="386.81" y="637.00" width="2.76" height="6.65" fill="#0028ff"/>
<rect x="386.81" y="546.63" width="2.76" height="2.35" fill="#000087"/>
<rect x="389.17" y="676.00" width="2.76" height="7.00" fill="#0000f7"/>
<rect x="389.17" y="637.00" width="2.76" height="39.40" fill="#0068ff"/>
<rect x="389.17" y="603.09" width="2.76" height="34.31" fill="#00b7ff"/>
<rect x="389.17" y="588.98" width="2.76" height="14.51" fill="#0000f7"/>
<rect x="389.17" y="565.45" width="2.76" height="23.92" fill="#0068ff"/>
<rect x="389.17" y="520.76" width="2.76" height="45.10" fill="#00b7ff"/>
<rect x="389.17" y="508.99" width="2.76" height="12.16" fill="#0000f7"/>
<rect x="391.53" y="660.50" width="2.36" height="22.50" fill="#68ff97"/>
<rect x="391.53" y="627.80" width="2.76" height="33.10" fill="#0068ff"/>
<rect x="391.53" y="620.70" width="2.36" height="7.50" fill="#0000f7"/>
<rect x="391.53" y="600.74" width="2.36" height="4.70" fill="#000087"/>
<rect x="391.53" y="572.51" width="2.36" height="2.35" fill="#000087"/>
<rect x="391.53" y="544.28" width="2.36" height="9.41" fill="#0000b7"/>
<rect x="391.53" y="530.17" width="2.36" height="4.70" fill="#000087"/>
<rect x="391.53" y="525.46" width="2.36" height="2.35" fill="#000087"/>
<rect x="391.53" y="508.99" width="2.36" height="14.11" fill="#0000b7"/>
<rect x="393.89" y="650.75" width="2.76" height="9.75" fill="#0000f7"/>
<rect x="393.89" y="643.25" width="2.76" height="7.90" fill="#00b7ff"/>
<rect x="393.89" y="637.00" width="2.76" height="6.65" fill="#0068ff"/>
<rect x="393.89" y="632.00" width="2.76" height="5.40" fill="#0000f7"/>
<rect x="393.89" y="607.80" width="2.76" height="12.90" fill="#0000f7"/>
<rect x="396.25" y="660.50" width="2.36" height="15.50" fill="#000087"/>
<rect x="396.25" y="650.75" width="2.36" height="10.15" fill="#00f7ff"/>
<rect x="396.25" y="643.25" width="2.36" height="7.90" fill="#68ff97"/>
<rect x="396.25" y="637.00" width="2.36" height="6.65" fill="#00f7ff"/>
<rect x="396.25" y="624.00" width="2.36" height="13.40" fill="#00b7ff"/>
<rect x="396.25" y="610.15" width="2.76" height="2.35" fill="#0000f7"/>
<rect x="396.25" y="603.09" width="2.36" height="7.46" fill="#0000b7"/>
<rect x="396.25" y="596.03" width="2.36" height="2.35" fill="#000087"/>
<rect x="396.25" y="584.27" width="2.36" height="2.35" fill="#000087"/>
<rect x="398.60" y="620.70" width="2.76" height="3.30" fill="#0000f7"/>
<rect x="398.60" y="610.15" width="2.36" height="2.35" fill="#0000f7"/>
<rect x="400.96" y="620.70" width="2.36" height="16.30" fill="#0000f7"/>
<rect x="400.96" y="617.70" width="2.36" height="3.40" fill="#000087"/>
<rect x="405.68" y="600.74" width="2.36" height="2.35" fill="#000087"/>
<rect x="415.12" y="624.00" width="2.36" height="3.80" fill="#000087"/>
<rect x="415.12" y="596.03" width="2.36" height="2.35" fill="#000087"/>
<rect x="419.83" y="600.74" width="2.36" height="2.35" fill="#000087"/>
<rect x="422.19" y="660.50" width="2.76" height="22.50" fill="#38ffc7"/>
<rect x="422.19" y="650.75" width="2.76" height="10.15" fill="#a7ff58"/>
<rect x="422.19" y="643.25" width="2.76" height="7.90" fill="#0068ff"/>
<rect x="424.55" y="676.00" width="2.76" height="7.00" fill="#000087"/>
<rect x="424.55" y="660.50" width="2.76" height="15.90" fill="#38ffc7"/>
<rect x="424.55" y="650.75" width="2.76" height="10.15" fill="#a7ff58"/>
<rect x="424.55" y="643.25" width="2.76" height="7.90" fill="#38ffc7"/>
<rect x="424.55" y="637.00" width="2.76" height="6.65" fill="#000087"/>
<rect x="424.55" y="586.62" width="2.76" height="11.76" fill="#0000f7"/>
<rect x="424.55" y="581.92" width="2.76" height="2.35" fill="#000087"/>
<rect x="424.55" y="574.86" width="2.76" height="2.35" fill="#000087"/>
<rect x="424.55" y="563.10" width="2.76" height="2.35" fill="#000087"/>
<rect x="426.91" y="676.00" width="2.76" height="7.00" fill="#0068ff"/>
<rect x="426.91" y="650.75" width="2.76" height="25.65" fill="#68ff97"/>
<rect x="426.91" y="643.25" width="2.76" height="7.90" fill="#0068ff"/>
<rect x="426.91" y="627.80" width="2.76" height="15.85" fill="#0000f7"/>
<rect x="426.91" y="603.09" width="2.76" height="25.11" fill="#0068ff"/>
<rect x="426.91" y="558.39" width="2.76" height="45.10" fill="#00b7ff"/>
<rect x="426.91" y="553.69" width="2.76" height="5.10" fill="#00f7ff"/>
<rect x="426.91" y="537.22" width="2.76" height="16.87" fill="#00b7ff"/>
<rect x="426.91" y="530.17" width="2.36" height="7.46" fill="#0000b7"/>
<rect x="426.91" y="525.46" width="2.36" height="2.35" fill="#000087"/>
<rect x="426.91" y="513.70" width="2.36" height="2.35" fill="#000087"/>
<rect x="429.27" y="676.00" width="2.36" height="7.00" fill="#00f7ff"/>
<rect x="429.27" y="650.75" width="2.76" height="25.65" fill="#38ffc7"/>
<rect x="429.27" y="643.25" width="2.76" height="7.90" fill="#0068ff"/>
<rect x="429.27" y="624.00" width="2.76" height="19.65" fill="#0000f7"/>
<rect x="429.27" y="596.03" width="2.76" height="24.67" fill="#0000b7"/>
<rect x="429.27" y="565.45" width="2.36" height="9.41" fill="#0000f7"/>
<rect x="429.27" y="539.58" width="2.36" height="23.52" fill="#0000f7"/>
<rect x="431.63" y="650.75" width="2.76" height="9.75" fill="#0000f7"/>
<rect x="431.63" y="643.25" width="2.76" height="7.90" fill="#00b7ff"/>
<rect x="431.63" y="637.00" width="2.76" height="6.65" fill="#0068ff"/>
<rect x="431.63" y="620.70" width="2.76" height="16.70" fill="#0000f7"/>
<rect x="431.63" y="607.80" width="2.36" height="13.30" fill="#0068ff"/>
<rect x="431.63" y="603.09" width="2.76" height="5.10" fill="#0000f7"/>
<rect x="431.63" y="586.62" width="2.36" height="11.76" fill="#0000f7"/>
<rect x="431.63" y="584.27" width="2.36" height="2.75" fill="#000087"/>
<rect x="431.63" y="577.21" width="2.36" height="4.70" fill="#0000b7"/>
<rect x="433.98" y="650.75" width="2.36" height="9.75" fill="#000087"/>
<rect x="433.98" y="643.25" width="2.36" height="7.90" fill="#00f7ff"/>
<rect x="433.98" y="637.00" width="2.36" height="6.65" fill="#0068ff"/>
<rect x="433.98" y="627.80" width="2.76" height="4.20" fill="#0000f7"/>
<rect x="433.98" y="620.70" width="2.76" height="3.30" fill="#0000f7"/>
<rect x="433.98" y="603.09" width="2.76" height="4.70" fill="#0000f7"/>
<rect x="436.34" y="627.80" width="2.76" height="4.20" fill="#0000f7"/>
<rect x="436.34" y="620.70" width="2.76" height="3.30" fill="#0000f7"/>
<rect x="436.34" y="610.15" width="2.76" height="4.85" fill="#0000f7"/>
<rect x="436.34" y="603.09" width="2.76" height="7.46" fill="#0068ff"/>
<rect x="436.34" y="598.39" width="2.36" height="2.35" fill="#000087"/>
<rect x="438.70" y="620.70" width="2.36" height="11.30" fill="#0000f7"/>
<rect x="438.70" y="607.80" width="2.76" height="7.20" fill="#000087"/>
<rect x="438.70" y="603.09" width="2.76" height="5.10" fill="#0068ff"/>
<rect x="441.06" y="603.09" width="2.36" height="7.06" fill="#0000f7"/>
<rect x="455.21" y="650.75" width="2.36" height="9.75" fill="#000087"/>
<rect x="459.93" y="676.00" width="2.76" height="7.00" fill="#38ffc7"/>
<rect x="459.93" y="660.50" width="2.76" height="15.90" fill="#a7ff58"/>
<rect x="459.93" y="650.75" width="2.76" height="10.15" fill="#68ff97"/>
<rect x="459.93" y="643.25" width="2.76" height="7.90" fill="#0000f7"/>
<rect x="462.29" y="676.00" width="2.76" height="7.00" fill="#0000f7"/>
<rect x="462.29" y="650.75" width="2.76" height="25.65" fill="#a7ff58"/>
<rect x="462.29" y="643.25" width="2.76" height="7.90" fill="#0000f7"/>
<rect x="462.29" y="567.80" width="2.76" height="2.35" fill="#000087"/>
<rect x="462.29" y="558.39" width="2.76" height="4.70" fill="#0000b7"/>
<rect x="462.29" y="548.99" width="2.76" height="2.35" fill="#000087"/>
<rect x="462.29" y="534.87" width="2.76" height="2.35" fill="#000087"/>
<rect x="464.65" y="676.00" width="2.76" height="7.00" fill="#0000f7"/>
<rect x="464.65" y="660.50" width="2.76" height="15.90" fill="#38ffc7"/>
<rect x="464.65" y="650.75" width="2.76" height="10.15" fill="#68ff97"/>
<rect x="464.65" y="643.25" width="2.76" height="7.90" fill="#0000f7"/>
<rect x="464.65" y="603.09" width="2.76" height="40.56" fill="#0068ff"/>
<rect x="464.65" y="600.74" width="2.76" height="2.75" fill="#000087"/>
<rect x="464.65" y="588.98" width="2.76" height="9.41" fill="#0000f7"/>
<rect x="464.65" y="572.51" width="2.76" height="16.87" fill="#0028ff"/>
<rect x="464.65" y="539.58" width="2.76" height="33.33" fill="#00b7ff"/>
<rect x="464.65" y="527.81" width="2.36" height="12.16" fill="#0000b7"/>
<rect x="464.65" y="520.76" width="2.36" height="2.35" fill="#000087"/>
<rect x="467.01" y="676.00" width="2.36" height="7.00" fill="#0068ff"/>
<rect x="467.01" y="650.75" width="2.76" height="25.65" fill="#38ffc7"/>
<rect x="467.01" y="643.25" width="2.76" height="7.90" fill="#000087"/>
<rect x="467.01" y="637.00" width="2.76" height="6.65" fill="#0068ff"/>
<rect x="467.01" y="632.00" width="2.76" height="5.40" fill="#000087"/>
<rect x="467.01" y="603.09" width="2.76" height="29.31" fill="#00b7ff"/>
<rect x="467.01" y="600.74" width="2.36" height="2.75" fill="#000087"/>
<rect x="467.01" y="588.98" width="2.76" height="9.41" fill="#0000f7"/>
<rect x="467.01" y="548.99" width="2.76" height="40.39" fill="#0028ff"/>
<rect x="467.01" y="541.93" width="2.36" height="2.35" fill="#000087"/>
<rect x="467.01" y="516.05" width="2.36" height="2.35" fill="#000087"/>
<rect x="467.01" y="511.35" width="2.36" height="2.35" fill="#000087"/>
<rect x="469.37" y="650.75" width="2.76" height="9.75" fill="#0068ff"/>
<rect x="469.37" y="643.25" width="2.76" height="7.90" fill="#00f7ff"/>
<rect x="469.37" y="603.09" width="2.76" height="40.56" fill="#0068ff"/>
<rect x="469.37" y="588.98" width="2.36" height="9.41" fill="#0000f7"/>
<rect x="469.37" y="572.51" width="2.36" height="16.87" fill="#0028ff"/>
<rect x="471.72" y="660.50" width="2.36" height="15.50" fill="#000087"/>
<rect x="471.72" y="650.75" width="2.36" height="10.15" fill="#0000f7"/>
<rect x="471.72" y="643.25" width="2.76" height="7.90" fill="#00f7ff"/>
<rect x="471.72" y="637.00" width="2.36" height="6.65" fill="#0068ff"/>
<rect x="471.72" y="624.00" width="2.76" height="13.40" fill="#00b7ff"/>
<rect x="471.72" y="610.15" width="2.76" height="14.25" fill="#0068ff"/>
<rect x="471.72" y="607.80" width="2.76" height="2.75" fill="#0000f7"/>
<rect x="474.08" y="643.25" width="2.36" height="7.50" fill="#000087"/>
<rect x="474.08" y="632.00" width="2.36" height="5.00" fill="#000087"/>
<rect x="474.08" y="617.70" width="2.76" height="14.70" fill="#0068ff"/>
<rect x="474.08" y="607.80" width="2.76" height="10.30" fill="#0000f7"/>
<rect x="474.08" y="596.03" width="2.36" height="2.35" fill="#000087"/>
<rect x="476.44" y="610.15" width="2.36" height="21.85" fill="#0000f7"/>
<rect x="476.44" y="603.09" width="2.76" height="4.70" fill="#0000f7"/>
<rect x="478.80" y="603.09" width="2.36" height="4.70" fill="#0000f7"/>
<rect x="492.95" y="660.50" width="2.76" height="15.50" fill="#000087"/>
<rect x="492.95" y="643.25" width="2.36" height="17.65" fill="#0068ff"/>
<rect x="492.95" y="610.15" width="2.36" height="4.85" fill="#000087"/>
<rect x="495.31" y="660.50" width="2.76" height="15.50" fill="#000087"/>
<rect x="495.31" y="593.68" width="2.36" height="2.35" fill="#000087"/>
<rect x="497.67" y="676.00" width="2.76" height="7.00" fill="#0000f7"/>
<rect x="497.67" y="660.50" width="2.76" height="15.90" fill="#68ff97"/>
<rect x="497.67" y="650.75" width="2.76" height="10.15" fill="#00f7ff"/>
<rect x="500.03" y="676.00" width="2.76" height="7.00" fill="#0000f7"/>
<rect x="500.03" y="660.50" width="2.76" height="15.90" fill="#68ff97"/>
<rect x="500.03" y="650.75" width="2.76" height="10.15" fill="#38ffc7"/>
<rect x="500.03" y="643.25" width="2.76" height="7.90" fill="#000087"/>
<rect x="500.03" y="600.74" width="2.76" height="4.70" fill="#000087"/>
<rect x="500.03" y="567.80" width="2.36" height="2.35" fill="#000087"/>
<rect x="500.03" y="556.04" width="2.76" height="2.35" fill="#000087"/>
<rect x="500.03" y="548.99" width="2.76" height="2.35" fill="#000087"/>
<rect x="502.39" y="676.00" width="2.36" height="7.00" fill="#00f7ff"/>
<rect x="502.39" y="650.75" width="2.76" height="25.65" fill="#68ff97"/>
<rect x="502.39" y="643.25" width="2.76" height="7.90" fill="#00f7ff"/>
<rect x="502.39" y="603.09" width="2.76" height="40.56" fill="#0000f7"/>
<rect x="502.39" y="588.98" width="2.36" height="11.76" fill="#0068ff"/>
<rect x="502.39" y="586.62" width="2.36" height="2.75" fill="#000087"/>
<rect x="502.39" y="570.16" width="2.76" height="11.76" fill="#0000b7"/>
<rect x="502.39" y="565.45" width="2.36" height="2.35" fill="#000087"/>
<rect x="502.39" y="556.04" width="2.36" height="7.06" fill="#0000b7"/>
<rect x="502.39" y="551.34" width="2.36" height="2.35" fill="#000087"/>
<rect x="502.39" y="532.52" width="2.36" height="19.22" fill="#0068ff"/>
<rect x="502.39" y="523.11" width="2.36" height="9.81" fill="#0000f7"/>
<rect x="502.39" y="516.05" width="2.76" height="4.70" fill="#0000f7"/>
<rect x="504.75" y="660.50" width="2.36" height="15.50" fill="#68ff97"/>
<rect x="504.75" y="650.75" width="2.76" height="10.15" fill="#38ffc7"/>
<rect x="504.75" y="643.25" width="2.76" height="7.90" fill="#00f7ff"/>
<rect x="504.75" y="637.00" width="2.76" height="6.65" fill="#000087"/>
<rect x="504.75" y="627.80" width="2.76" height="9.60" fill="#0000f7"/>
<rect x="504.75" y="617.70" width="2.76" height="10.50" fill="#0000b7"/>
<rect x="504.75" y="603.09" width="2.76" height="15.01" fill="#0068ff"/>
<rect x="504.75" y="584.27" width="2.36" height="2.35" fill="#000087"/>
<rect x="504.75" y="579.57" width="2.36" height="2.35" fill="#000087"/>
<rect x="504.75" y="516.05" width="2.36" height="4.70" fill="#0000f7"/>
<rect x="504.75" y="513.70" width="2.36" height="2.75" fill="#000087"/>
<rect x="507.10" y="676.00" width="2.36" height="7.00" fill="#000087"/>
<rect x="507.10" y="637.00" width="2.76" height="23.50" fill="#00f7ff"/>
<rect x="507.10" y="627.80" width="2.76" height="9.60" fill="#0068ff"/>
<rect x="507.10" y="610.15" width="2.76" height="13.85" fill="#0068ff"/>
<rect x="507.10" y="603.09" width="2.76" height="7.46" fill="#0000f7"/>
<rect x="507.10" y="593.68" width="2.36" height="2.35" fill="#000087"/>
<rect x="509.46" y="650.75" width="2.36" height="9.75" fill="#00f7ff"/>
<rect x="509.46" y="643.25" width="2.36" height="7.90" fill="#68ff97"/>
<rect x="509.46" y="637.00" width="2.76" height="6.65" fill="#00f7ff"/>
<rect x="509.46" y="632.00" width="2.36" height="5.40" fill="#0068ff"/>
<rect x="509.46" y="617.70" width="2.76" height="6.30" fill="#000087"/>
<rect x="509.46" y="603.09" width="2.76" height="15.01" fill="#0000f7"/>
<rect x="509.46" y="596.03" width="2.36" height="7.46" fill="#000087"/>
<rect x="511.82" y="637.00" width="2.36" height="6.25" fill="#0068ff"/>
<rect x="511.82" y="610.15" width="2.76" height="13.85" fill="#000087"/>
<rect x="511.82" y="603.09" width="2.36" height="4.70" fill="#0000f7"/>
<rect x="511.82" y="487.82" width="2.36" height="2.35" fill="#000087"/>
<rect x="514.18" y="624.00" width="2.36" height="13.00" fill="#0000f7"/>
<rect x="514.18" y="617.70" width="2.36" height="3.00" fill="#000087"/>
<rect x="514.18" y="586.62" width="2.36" height="2.35" fill="#000087"/>
<rect x="518.90" y="620.70" width="2.36" height="3.30" fill="#000087"/>
<rect x="518.90" y="615.00" width="2.36" height="2.70" fill="#000087"/>
<rect x="518.90" y="598.39" width="2.36" height="2.35" fill="#000087"/>
<rect x="530.69" y="660.50" width="2.36" height="15.50" fill="#000087"/>
<rect x="530.69" y="643.25" width="2.36" height="17.65" fill="#00b7ff"/>
<rect x="530.69" y="637.00" width="2.36" height="6.65" fill="#0000f7"/>
<rect x="530.69" y="632.00" width="2.36" height="5.40" fill="#000087"/>
<rect x="535.41" y="660.50" width="2.76" height="15.50" fill="#00b7ff"/>
<rect x="535.41" y="650.75" width="2.76" height="10.15" fill="#68ff97"/>
<rect x="535.41" y="643.25" width="2.76" height="7.90" fill="#a7ff58"/>
<rect x="535.41" y="637.00" width="2.76" height="6.65" fill="#0000f7"/>
<rect x="535.41" y="591.33" width="2.36" height="2.35" fill="#000087"/>
<rect x="535.41" y="544.28" width="2.36" height="2.35" fill="#000087"/>
<rect x="537.77" y="676.00" width="2.76" height="7.00" fill="#000087"/>
<rect x="537.77" y="660.50" width="2.76" height="15.90" fill="#38ffc7"/>
<rect x="537.77" y="650.75" width="2.76" height="10.15" fill="#68ff97"/>
<rect x="537.77" y="643.25" width="2.76" height="7.90" fill="#0068ff"/>
<rect x="537.77" y="637.00" width="2.76" height="6.65" fill="#0000f7"/>
<rect x="537.77" y="523.11" width="2.76" height="2.35" fill="#000087"/>
<rect x="540.13" y="676.00" width="2.76" height="7.00" fill="#38ffc7"/>
<rect x="540.13" y="660.50" width="2.76" height="15.90" fill="#a7ff58"/>
<rect x="540.13" y="650.75" width="2.76" height="10.15" fill="#68ff97"/>
<rect x="540.13" y="643.25" width="2.76" height="7.90" fill="#0000f7"/>
<rect x="540.13" y="637.00" width="2.76" height="6.65" fill="#000087"/>
<rect x="540.13" y="600.74" width="2.76" height="7.06" fill="#0000b7"/>
<rect x="540.13" y="556.04" width="2.36" height="4.70" fill="#0028ff"/>
<rect x="540.13" y="548.99" width="2.36" height="2.35" fill="#0000f7"/>
<rect x="540.13" y="516.05" width="2.76" height="33.33" fill="#00b7ff"/>
<rect x="542.49" y="676.00" width="2.36" height="7.00" fill="#38ffc7"/>
<rect x="542.49" y="650.75" width="2.36" height="25.65" fill="#a7ff58"/>
<rect x="542.49" y="643.25" width="2.36" height="7.90" fill="#00b7ff"/>
<rect x="542.49" y="637.00" width="2.76" height="6.65" fill="#0000f7"/>
<rect x="542.49" y="620.70" width="2.76" height="16.70" fill="#0000b7"/>
<rect x="542.49" y="615.00" width="2.76" height="2.70" fill="#000087"/>
<rect x="542.49" y="600.74" width="2.36" height="7.06" fill="#0000b7"/>
<rect x="542.49" y="516.05" width="2.36" height="21.17" fill="#0000f7"/>
<rect x="544.84" y="637.00" width="2.76" height="6.25" fill="#000087"/>
<rect x="544.84" y="620.70" width="2.76" height="16.70" fill="#0000f7"/>
<rect x="544.84" y="610.15" width="2.76" height="10.95" fill="#0000b7"/>
<rect x="544.84" y="607.80" width="2.76" height="2.75" fill="#000087"/>
<rect x="547.20" y="650.75" width="2.36" height="9.75" fill="#000087"/>
<rect x="547.20" y="632.00" width="2.76" height="19.15" fill="#00f7ff"/>
<rect x="547.20" y="620.70" width="2.76" height="11.70" fill="#0068ff"/>
<rect x="547.20" y="610.15" width="2.76" height="10.95" fill="#0000f7"/>
<rect x="547.20" y="603.09" width="2.76" height="7.46" fill="#0028ff"/>
<rect x="547.20" y="433.72" width="2.36" height="2.35" fill="#000087"/>
<rect x="549.56" y="637.00" width="2.76" height="6.25" fill="#0000f7"/>
<rect x="549.56" y="624.00" width="2.76" height="13.40" fill="#00f7ff"/>
<rect x="549.56" y="617.70" width="2.76" height="6.70" fill="#0068ff"/>
<rect x="549.56" y="610.15" width="2.76" height="7.95" fill="#0000f7"/>
<rect x="549.56" y="603.09" width="2.76" height="7.46" fill="#0028ff"/>
<rect x="549.56" y="600.74" width="2.36" height="2.75" fill="#0068ff"/>
<rect x="549.56" y="596.03" width="2.36" height="5.10" fill="#000087"/>
<rect x="549.56" y="591.33" width="2.36" height="2.35" fill="#000087"/>
<rect x="551.92" y="637.00" width="2.36" height="6.25" fill="#0000f7"/>
<rect x="551.92" y="627.80" width="2.36" height="9.60" fill="#0068ff"/>
<rect x="551.92" y="617.70" width="2.36" height="10.50" fill="#0000f7"/>
<rect x="551.92" y="615.00" width="2.76" height="3.10" fill="#000087"/>
<rect x="551.92" y="603.09" width="2.36" height="9.41" fill="#0028ff"/>
<rect x="554.28" y="615.00" width="2.36" height="2.70" fill="#000087"/>
<rect x="561.35" y="596.03" width="2.36" height="2.35" fill="#000087"/>
<rect x="568.43" y="676.00" width="2.36" height="7.00" fill="#000087"/>
<rect x="573.15" y="676.00" width="2.76" height="7.00" fill="#0000f7"/>
<rect x="573.15" y="650.75" width="2.76" height="25.65" fill="#00b7ff"/>
<rect x="575.51" y="676.00" width="2.76" height="7.00" fill="#0068ff"/>
<rect x="575.51" y="660.50" width="2.76" height="15.90" fill="#38ffc7"/>
<rect x="575.51" y="650.75" width="2.76" height="10.15" fill="#00f7ff"/>
<rect x="577.87" y="660.50" width="2.76" height="22.50" fill="#38ffc7"/>
<rect x="577.87" y="643.25" width="2.76" height="17.65" fill="#000087"/>
<rect x="577.87" y="620.70" width="2.76" height="16.30" fill="#00f7ff"/>
<rect x="577.87" y="603.09" width="2.76" height="18.01" fill="#0068ff"/>
<rect x="577.87" y="591.33" width="2.76" height="12.16" fill="#000087"/>
<rect x="577.87" y="572.51" width="2.76" height="16.47" fill="#000087"/>
<rect x="577.87" y="560.75" width="2.76" height="12.16" fill="#0000f7"/>
<rect x="577.87" y="527.81" width="2.76" height="33.33" fill="#00b7ff"/>
<rect x="577.87" y="516.05" width="2.76" height="12.16" fill="#0000f7"/>
<rect x="577.87" y="508.99" width="2.76" height="7.46" fill="#0000b7"/>
<rect x="580.22" y="676.00" width="2.36" height="7.00" fill="#68ff97"/>
<rect x="580.22" y="660.50" width="2.36" height="15.90" fill="#a7ff58"/>
<rect x="580.22" y="650.75" width="2.76" height="10.15" fill="#68ff97"/>
<rect x="580.22" y="637.00" width="2.76" height="14.15" fill="#0000f7"/>
<rect x="580.22" y="624.00" width="2.76" height="13.40" fill="#000087"/>
<rect x="580.22" y="617.70" width="2.76" height="6.70" fill="#0068ff"/>
<rect x="580.22" y="607.80" width="2.76" height="10.30" fill="#00b7ff"/>
<rect x="580.22" y="603.09" width="2.76" height="5.10" fill="#0068ff"/>
<rect x="580.22" y="593.68" width="2.36" height="4.70" fill="#000087"/>
<rect x="580.22" y="586.62" width="2.36" height="2.35" fill="#000087"/>
<rect x="580.22" y="556.04" width="2.36" height="16.47" fill="#0028ff"/>
<rect x="580.22" y="544.28" width="2.76" height="4.70" fill="#0000b7"/>
<rect x="580.22" y="541.93" width="2.36" height="2.75" fill="#000087"/>
<rect x="580.22" y="527.81" width="2.36" height="14.51" fill="#0000f7"/>
<rect x="580.22" y="516.05" width="2.36" height="12.16" fill="#0028ff"/>
<rect x="580.22" y="508.99" width="2.36" height="7.46" fill="#0000b7"/>
<rect x="582.58" y="650.75" width="2.76" height="9.75" fill="#000087"/>
<rect x="582.58" y="643.25" width="2.36" height="7.90" fill="#0068ff"/>
<rect x="582.58" y="627.80" width="2.76" height="15.85" fill="#00f7ff"/>
<rect x="582.58" y="620.70" width="2.76" height="7.50" fill="#0000f7"/>
<rect x="582.58" y="603.09" width="2.76" height="18.01" fill="#0068ff"/>
<rect x="582.58" y="600.74" width="2.76" height="2.75" fill="#0000f7"/>
<rect x="582.58" y="544.28" width="2.36" height="11.76" fill="#0000b7"/>
<rect x="584.94" y="650.75" width="2.36" height="9.75" fill="#0000f7"/>
<rect x="584.94" y="624.00" width="2.36" height="8.00" fill="#000087"/>
<rect x="584.94" y="603.09" width="2.76" height="17.61" fill="#0028ff"/>
<rect x="584.94" y="600.74" width="2.76" height="2.75" fill="#0000f7"/>
<rect x="587.30" y="610.15" width="2.36" height="7.55" fill="#000087"/>
<rect x="587.30" y="596.03" width="2.36" height="9.41" fill="#0000f7"/>
<rect x="587.30" y="591.33" width="2.36" height="5.10" fill="#000087"/>
<rect x="589.66" y="577.21" width="2.36" height="2.35" fill="#000087"/>
<rect x="589.66" y="485.47" width="2.36" height="2.35" fill="#000087"/>
<rect x="594.38" y="615.00" width="2.36" height="9.00" fill="#0000f7"/>
<rect x="594.38" y="610.15" width="2.36" height="5.25" fill="#0068ff"/>
<rect x="594.38" y="603.09" width="2.36" height="7.46" fill="#00b7ff"/>
<rect x="596.74" y="676.00" width="2.36" height="7.00" fill="#000087"/>
<rect x="596.74" y="650.75" width="2.36" height="9.75" fill="#000087"/>
<rect x="599.09" y="593.68" width="2.36" height="2.35" fill="#000087"/>
<rect x="601.45" y="603.09" width="2.36" height="4.70" fill="#000087"/>
<rect x="606.17" y="676.00" width="2.36" height="7.00" fill="#000087"/>
<rect x="610.89" y="676.00" width="2.76" height="7.00" fill="#0068ff"/>
<rect x="610.89" y="650.75" width="2.76" height="25.65" fill="#00f7ff"/>
<rect x="613.25" y="676.00" width="2.76" height="7.00" fill="#68ff97"/>
<rect x="613.25" y="660.50" width="2.76" height="15.90" fill="#a7ff58"/>
<rect x="613.25" y="650.75" width="2.76" height="10.15" fill="#00f7ff"/>
<rect x="615.60" y="676.00" width="2.76" height="7.00" fill="#68ff97"/>
<rect x="615.60" y="660.50" width="2.76" height="15.90" fill="#a7ff58"/>
<rect x="615.60" y="650.75" width="2.76" height="10.15" fill="#68ff97"/>
<rect x="615.60" y="637.00" width="2.76" height="14.15" fill="#000087"/>
<rect x="615.60" y="607.80" width="2.76" height="24.20" fill="#0000f7"/>
<rect x="615.60" y="600.74" width="2.76" height="7.46" fill="#0068ff"/>
<rect x="615.60" y="588.98" width="2.76" height="12.16" fill="#0000f7"/>
<rect x="615.60" y="570.16" width="2.76" height="19.22" fill="#00b7ff"/>
<rect x="615.60" y="553.69" width="2.76" height="16.87" fill="#0000f7"/>
<rect x="615.60" y="525.46" width="2.76" height="18.82" fill="#0000f7"/>
<rect x="615.60" y="508.99" width="2.76" height="11.76" fill="#0000f7"/>
<rect x="617.96" y="650.75" width="2.76" height="32.25" fill="#00f7ff"/>
<rect x="617.96" y="643.25" width="2.76" height="7.90" fill="#0000f7"/>
<rect x="617.96" y="637.00" width="2.76" height="6.65" fill="#000087"/>
<rect x="617.96" y="620.70" width="2.76" height="16.70" fill="#0000b7"/>
<rect x="617.96" y="607.80" width="2.76" height="9.90" fill="#0000f7"/>
<rect x="617.96" y="588.98" width="2.76" height="19.22" fill="#0068ff"/>
<rect x="617.96" y="567.80" width="2.76" height="21.57" fill="#0000f7"/>
<rect x="617.96" y="551.34" width="2.36" height="2.35" fill="#000087"/>
<rect x="617.96" y="546.63" width="2.36" height="2.35" fill="#000087"/>
<rect x="617.96" y="525.46" width="2.36" height="16.47" fill="#0068ff"/>
<rect x="617.96" y="508.99" width="2.36" height="16.87" fill="#00b7ff"/>
<rect x="617.96" y="506.64" width="2.36" height="2.75" fill="#0000f7"/>
<rect x="620.32" y="643.25" width="2.76" height="17.25" fill="#0000f7"/>
<rect x="620.32" y="637.00" width="2.36" height="6.65" fill="#0068ff"/>
<rect x="620.32" y="624.00" width="2.36" height="13.40" fill="#0000b7"/>
<rect x="620.32" y="593.68" width="2.76" height="30.72" fill="#0000f7"/>
<rect x="620.32" y="586.62" width="2.36" height="7.46" fill="#000087"/>
<rect x="622.68" y="643.25" width="2.36" height="7.50" fill="#000087"/>
<rect x="622.68" y="603.09" width="2.76" height="4.70" fill="#0000f7"/>
<rect x="625.04" y="617.70" width="2.76" height="3.00" fill="#000087"/>
<rect x="625.04" y="600.74" width="2.76" height="4.70" fill="#000087"/>
<rect x="625.04" y="485.47" width="2.36" height="2.35" fill="#000087"/>
<rect x="627.40" y="615.00" width="2.36" height="5.70" fill="#000087"/>
<rect x="627.40" y="607.80" width="2.36" height="2.35" fill="#0000f7"/>
<rect x="627.40" y="603.09" width="2.36" height="5.10" fill="#0068ff"/>
<rect x="627.40" y="574.86" width="2.36" height="2.35" fill="#000087"/>
<rect x="646.27" y="637.00" width="2.76" height="23.50" fill="#0068ff"/>
<rect x="648.63" y="660.50" width="2.76" height="22.50" fill="#00f7ff"/>
<rect x="648.63" y="643.25" width="2.76" height="7.50" fill="#000087"/>
<rect x="650.99" y="650.75" width="2.76" height="25.25" fill="#38ffc7"/>
<rect x="650.99" y="643.25" width="2.76" height="7.90" fill="#0028ff"/>
<rect x="650.99" y="637.00" width="2.76" height="6.65" fill="#0000f7"/>
<rect x="653.34" y="676.00" width="2.76" height="7.00" fill="#0068ff"/>
<rect x="653.34" y="650.75" width="2.76" height="25.65" fill="#68ff97"/>
<rect x="653.34" y="643.25" width="2.76" height="7.90" fill="#0028ff"/>
<rect x="653.34" y="617.70" width="2.76" height="25.95" fill="#0000f7"/>
<rect x="653.34" y="603.09" width="2.76" height="15.01" fill="#00b7ff"/>
<rect x="653.34" y="591.33" width="2.36" height="12.16" fill="#0000f7"/>
<rect x="653.34" y="548.99" width="2.36" height="2.35" fill="#000087"/>
<rect x="653.34" y="544.28" width="2.36" height="2.35" fill="#000087"/>
<rect x="653.34" y="527.81" width="2.76" height="14.11" fill="#0000f7"/>
<rect x="653.34" y="513.70" width="2.36" height="9.41" fill="#0028ff"/>
<rect x="655.70" y="676.00" width="2.36" height="7.00" fill="#0068ff"/>
<rect x="655.70" y="650.75" width="2.76" height="25.65" fill="#68ff97"/>
<rect x="655.70" y="643.25" width="2.76" height="7.90" fill="#0028ff"/>
<rect x="655.70" y="637.00" width="2.76" height="6.65" fill="#0000f7"/>
<rect x="655.70" y="624.00" width="2.76" height="8.00" fill="#000087"/>
<rect x="655.70" y="603.09" width="2.76" height="21.31" fill="#0068ff"/>
<rect x="655.70" y="527.81" width="2.36" height="2.35" fill="#000087"/>
<rect x="655.70" y="511.35" width="2.36" height="2.35" fill="#000087"/>
<rect x="658.06" y="643.25" width="2.76" height="17.25" fill="#0000f7"/>
<rect x="658.06" y="627.80" width="2.76" height="15.85" fill="#0068ff"/>
<rect x="658.06" y="610.15" width="2.76" height="18.05" fill="#00f7ff"/>
<rect x="658.06" y="607.80" width="2.76" height="2.75" fill="#000087"/>
<rect x="660.42" y="637.00" width="2.36" height="13.75" fill="#000087"/>
<rect x="660.42" y="617.70" width="2.36" height="14.30" fill="#0000b7"/>
<rect x="660.42" y="607.80" width="2.76" height="2.35" fill="#000087"/>
<rect x="660.42" y="603.09" width="2.36" height="5.10" fill="#00f7ff"/>
<rect x="662.78" y="607.80" width="2.76" height="2.35" fill="#000087"/>
<rect x="665.14" y="627.80" width="2.36" height="9.20" fill="#0000f7"/>
<rect x="665.14" y="603.09" width="2.76" height="25.11" fill="#00b7ff"/>
<rect x="665.14" y="596.03" width="2.36" height="2.35" fill="#000087"/>
<rect x="667.50" y="612.50" width="2.36" height="5.20" fill="#000087"/>
<rect x="669.85" y="579.57" width="2.36" height="7.06" fill="#000087"/>
<rect x="672.21" y="603.09" width="2.36" height="4.70" fill="#000087"/>
<rect x="681.65" y="593.68" width="2.36" height="2.35" fill="#000087"/>
<rect x="684.01" y="650.75" width="2.76" height="9.75" fill="#000087"/>
<rect x="684.01" y="637.00" width="2.76" height="14.15" fill="#0000f7"/>
<rect x="686.37" y="676.00" width="2.76" height="7.00" fill="#000087"/>
<rect x="686.37" y="660.50" width="2.76" height="15.90" fill="#38ffc7"/>
<rect x="686.37" y="650.75" width="2.76" height="10.15" fill="#68ff97"/>
<rect x="686.37" y="643.25" width="2.76" height="7.90" fill="#0000f7"/>
<rect x="686.37" y="574.86" width="2.36" height="2.35" fill="#000087"/>
<rect x="688.72" y="676.00" width="2.76" height="7.00" fill="#0068ff"/>
<rect x="688.72" y="660.50" width="2.76" height="15.90" fill="#ffe700"/>
<rect x="688.72" y="650.75" width="2.76" height="10.15" fill="#e7ff18"/>
<rect x="688.72" y="643.25" width="2.76" height="7.90" fill="#68ff97"/>
<rect x="688.72" y="637.00" width="2.76" height="6.65" fill="#0000f7"/>
<rect x="691.08" y="676.00" width="2.76" height="7.00" fill="#00f7ff"/>
<rect x="691.08" y="650.75" width="2.76" height="25.65" fill="#38ffc7"/>
<rect x="691.08" y="643.25" width="2.36" height="7.90" fill="#0000f7"/>
<rect x="691.08" y="637.00" width="2.36" height="6.65" fill="#000087"/>
<rect x="691.08" y="627.80" width="2.76" height="4.20" fill="#000087"/>
<rect x="691.08" y="603.09" width="2.76" height="4.70" fill="#0000f7"/>
<rect x="691.08" y="596.03" width="2.36" height="4.70" fill="#000087"/>
<rect x="691.08" y="591.33" width="2.36" height="2.35" fill="#000087"/>
<rect x="691.08" y="579.57" width="2.36" height="2.35" fill="#000087"/>
<rect x="691.08" y="574.86" width="2.36" height="2.35" fill="#000087"/>
<rect x="691.08" y="570.16" width="2.36" height="2.35" fill="#000087"/>
<rect x="691.08" y="513.70" width="2.76" height="18.82" fill="#0000f7"/>
<rect x="691.08" y="508.99" width="2.36" height="2.35" fill="#000087"/>
<rect x="693.44" y="660.50" width="2.36" height="22.50" fill="#00f7ff"/>
<rect x="693.44" y="650.75" width="2.76" height="10.15" fill="#0068ff"/>
<rect x="693.44" y="632.00" width="2.76" height="5.00" fill="#000087"/>
<rect x="693.44" y="624.00" width="2.76" height="8.40" fill="#0000f7"/>
<rect x="693.44" y="610.15" width="2.76" height="14.25" fill="#00b7ff"/>
<rect x="693.44" y="603.09" width="2.76" height="4.70" fill="#0000f7"/>
<rect x="693.44" y="525.46" width="2.36" height="2.35" fill="#000087"/>
<rect x="693.44" y="511.35" width="2.36" height="2.35" fill="#000087"/>
<rect x="695.80" y="650.75" width="2.36" height="9.75" fill="#0068ff"/>
<rect x="695.80" y="637.00" width="2.76" height="14.15" fill="#a7ff58"/>
<rect x="695.80" y="632.00" width="2.76" height="5.40" fill="#68ff97"/>
<rect x="695.80" y="627.80" width="2.76" height="4.60" fill="#00b7ff"/>
<rect x="695.80" y="620.70" width="2.76" height="7.50" fill="#0000b7"/>
<rect x="695.80" y="610.15" width="2.76" height="10.95" fill="#00b7ff"/>
<rect x="695.80" y="603.09" width="2.76" height="4.70" fill="#0000f7"/>
<rect x="698.16" y="632.00" width="2.36" height="11.25" fill="#000087"/>
<rect x="698.16" y="617.70" width="2.76" height="14.70" fill="#0000f7"/>
<rect x="698.16" y="603.09" width="2.76" height="15.01" fill="#38ffc7"/>
<rect x="698.16" y="600.74" width="2.76" height="2.75" fill="#000087"/>
<rect x="698.16" y="593.68" width="2.76" height="4.70" fill="#000087"/>
<rect x="700.52" y="617.70" width="2.36" height="14.30" fill="#0000f7"/>
<rect x="700.52" y="603.09" width="2.76" height="15.01" fill="#00f7ff"/>
<rect x="700.52" y="593.68" width="2.36" height="9.81" fill="#000087"/>
<rect x="700.52" y="588.98" width="2.36" height="5.10" fill="#0000f7"/>
<rect x="702.88" y="603.09" width="2.36" height="4.70" fill="#000087"/>
<rect x="707.59" y="610.15" width="2.36" height="4.85" fill="#0000f7"/>
<rect x="707.59" y="603.09" width="2.36" height="4.70" fill="#000087"/>
<rect x="721.75" y="637.00" width="2.36" height="6.25" fill="#000087"/>
<rect x="721.75" y="593.68" width="2.36" height="2.35" fill="#000087"/>
<rect x="724.11" y="676.00" width="2.36" height="7.00" fill="#000087"/>
<rect x="724.11" y="660.50" width="2.76" height="15.90" fill="#0068ff"/>
<rect x="724.11" y="650.75" width="2.76" height="10.15" fill="#00f7ff"/>
<rect x="724.11" y="643.25" width="2.76" height="7.90" fill="#000087"/>
<rect x="726.46" y="660.50" width="2.76" height="15.50" fill="#0068ff"/>
<rect x="726.46" y="650.75" width="2.76" height="10.15" fill="#68ff97"/>
<rect x="726.46" y="643.25" width="2.76" height="7.90" fill="#0000f7"/>
<rect x="728.82" y="676.00" width="2.76" height="7.00" fill="#00f7ff"/>
<rect x="728.82" y="650.75" width="2.76" height="25.65" fill="#68ff97"/>
<rect x="728.82" y="643.25" width="2.76" height="7.90" fill="#0000f7"/>
<rect x="728.82" y="603.09" width="2.76" height="40.56" fill="#0068ff"/>
<rect x="728.82" y="588.98" width="2.76" height="14.51" fill="#0000f7"/>
<rect x="728.82" y="579.57" width="2.76" height="9.81" fill="#0000b7"/>
<rect x="728.82" y="567.80" width="2.36" height="9.41" fill="#0000b7"/>
<rect x="728.82" y="560.75" width="2.36" height="2.35" fill="#000087"/>
<rect x="728.82" y="530.17" width="2.76" height="2.35" fill="#000087"/>
<rect x="728.82" y="523.11" width="2.36" height="2.35" fill="#000087"/>
<rect x="728.82" y="513.70" width="2.36" height="2.35" fill="#000087"/>
<rect x="731.18" y="676.00" width="2.36" height="7.00" fill="#000087"/>
<rect x="731.18" y="660.50" width="2.36" height="15.90" fill="#68ff97"/>
<rect x="731.18" y="650.75" width="2.76" height="10.15" fill="#a7ff58"/>
<rect x="731.18" y="643.25" width="2.76" height="7.90" fill="#00f7ff"/>
<rect x="731.18" y="637.00" width="2.76" height="6.65" fill="#0068ff"/>
<rect x="731.18" y="620.70" width="2.76" height="16.70" fill="#0000f7"/>
<rect x="731.18" y="610.15" width="2.76" height="10.95" fill="#000087"/>
<rect x="731.18" y="603.09" width="2.76" height="7.46" fill="#0068ff"/>
<rect x="731.18" y="596.03" width="2.36" height="4.70" fill="#000087"/>
<rect x="731.18" y="591.33" width="2.36" height="2.35" fill="#000087"/>
<rect x="731.18" y="579.57" width="2.36" height="9.41" fill="#0000b7"/>
<rect x="731.18" y="525.46" width="2.36" height="7.06" fill="#0000b7"/>
<rect x="731.18" y="516.05" width="2.36" height="2.35" fill="#000087"/>
<rect x="731.18" y="511.35" width="2.36" height="2.35" fill="#000087"/>
<rect x="733.54" y="643.25" width="2.76" height="17.25" fill="#00f7ff"/>
<rect x="733.54" y="624.00" width="2.76" height="19.65" fill="#0000f7"/>
<rect x="733.54" y="610.15" width="2.76" height="14.25" fill="#0068ff"/>
<rect x="733.54" y="603.09" width="2.76" height="7.46" fill="#38ffc7"/>
<rect x="735.90" y="650.75" width="2.36" height="9.75" fill="#0000f7"/>
<rect x="735.90" y="643.25" width="2.36" height="7.90" fill="#00f7ff"/>
<rect x="735.90" y="637.00" width="2.36" height="6.65" fill="#0068ff"/>
<rect x="735.90" y="627.80" width="2.76" height="4.20" fill="#0000f7"/>
<rect x="735.90" y="620.70" width="2.76" height="3.30" fill="#000087"/>
<rect x="735.90" y="607.80" width="2.76" height="2.35" fill="#000087"/>
<rect x="738.26" y="620.70" width="2.76" height="16.30" fill="#0000f7"/>
<rect x="738.26" y="607.80" width="2.76" height="13.30" fill="#0068ff"/>
<rect x="738.26" y="603.09" width="2.76" height="5.10" fill="#0000f7"/>
<rect x="740.62" y="624.00" width="2.36" height="3.80" fill="#000087"/>
<rect x="740.62" y="607.80" width="2.36" height="12.90" fill="#0068ff"/>
<rect x="740.62" y="603.09" width="2.76" height="5.10" fill="#0000f7"/>
<rect x="742.97" y="603.09" width="2.36" height="4.70" fill="#0000f7"/>
<rect x="742.97" y="598.39" width="2.36" height="2.35" fill="#000087"/>
<rect x="750.05" y="574.86" width="2.36" height="2.35" fill="#000087"/>
<rect x="752.41" y="577.21" width="2.36" height="2.35" fill="#000087"/>
<rect x="754.77" y="579.57" width="2.36" height="4.70" fill="#000087"/>
<rect x="754.77" y="567.80" width="2.36" height="2.35" fill="#000087"/>
<rect x="757.13" y="593.68" width="2.36" height="2.35" fill="#000087"/>
<rect x="761.84" y="676.00" width="2.76" height="7.00" fill="#000087"/>
<rect x="761.84" y="650.75" width="2.76" height="25.65" fill="#38ffc7"/>
<rect x="761.84" y="643.25" width="2.36" height="7.90" fill="#000087"/>
<rect x="764.20" y="676.00" width="2.76" height="7.00" fill="#0068ff"/>
<rect x="764.20" y="660.50" width="2.76" height="15.90" fill="#00f7ff"/>
<rect x="764.20" y="650.75" width="2.76" height="10.15" fill="#0068ff"/>
<rect x="766.56" y="650.75" width="2.76" height="32.25" fill="#00f7ff"/>
<rect x="766.56" y="643.25" width="2.76" height="7.90" fill="#0028ff"/>
<rect x="766.56" y="627.80" width="2.76" height="15.85" fill="#0000f7"/>
<rect x="766.56" y="610.15" width="2.76" height="13.85" fill="#0000b7"/>
<rect x="766.56" y="603.09" width="2.76" height="4.70" fill="#000087"/>
<rect x="766.56" y="600.74" width="2.36" height="2.75" fill="#0000f7"/>
<rect x="766.56" y="565.45" width="2.76" height="35.69" fill="#00b7ff"/>
<rect x="766.56" y="558.39" width="2.36" height="7.46" fill="#0000f7"/>
<rect x="766.56" y="532.52" width="2.76" height="18.82" fill="#0068ff"/>
<rect x="766.56" y="518.40" width="2.76" height="11.76" fill="#0028ff"/>
<rect x="768.92" y="676.00" width="2.36" height="7.00" fill="#000087"/>
<rect x="768.92" y="650.75" width="2.36" height="25.65" fill="#00f7ff"/>
<rect x="768.92" y="643.25" width="2.76" height="7.90" fill="#0028ff"/>
<rect x="768.92" y="620.70" width="2.76" height="22.95" fill="#0000f7"/>
<rect x="768.92" y="607.80" width="2.76" height="13.30" fill="#0068ff"/>
<rect x="768.92" y="603.09" width="2.76" height="5.10" fill="#00f7ff"/>
<rect x="768.92" y="586.62" width="2.76" height="14.11" fill="#0068ff"/>
<rect x="768.92" y="572.51" width="2.76" height="14.51" fill="#0000f7"/>
<rect x="768.92" y="537.22" width="2.36" height="11.76" fill="#0000f7"/>
<rect x="768.92" y="534.87" width="2.36" height="2.75" fill="#000087"/>
<rect x="768.92" y="516.05" width="2.36" height="4.70" fill="#000087"/>
<rect x="771.28" y="632.00" width="2.76" height="18.75" fill="#0028ff"/>
<rect x="771.28" y="627.80" width="2.76" height="4.60" fill="#000087"/>
<rect x="771.28" y="615.00" width="2.76" height="5.70" fill="#000087"/>
<rect x="771.28" y="607.80" width="2.76" height="4.70" fill="#0000f7"/>
<rect x="771.28" y="603.09" width="2.76" height="5.10" fill="#00f7ff"/>
<rect x="771.28" y="584.27" width="2.36" height="9.41" fill="#000087"/>
<rect x="773.64" y="637.00" width="2.36" height="13.75" fill="#000087"/>
<rect x="773.64" y="632.00" width="2.76" height="5.40" fill="#0028ff"/>
<rect x="773.64" y="610.15" width="2.76" height="22.25" fill="#00f7ff"/>
<rect x="773.64" y="607.80" width="2.76" height="2.75" fill="#0068ff"/>
<rect x="773.64" y="603.09" width="2.76" height="5.10" fill="#00f7ff"/>
<rect x="773.64" y="600.74" width="2.36" height="2.75" fill="#000087"/>
<rect x="773.64" y="593.68" width="2.36" height="4.70" fill="#000087"/>
<rect x="773.64" y="574.86" width="2.36" height="2.35" fill="#000087"/>
<rect x="776.00" y="632.00" width="2.36" height="5.00" fill="#0028ff"/>
<rect x="776.00" y="603.09" width="2.36" height="11.91" fill="#0000f7"/>
<rect x="776.00" y="497.23" width="2.36" height="2.35" fill="#000087"/>
<rect x="780.71" y="603.09" width="2.36" height="4.70" fill="#0000f7"/>
<rect x="780.71" y="570.16" width="2.36" height="2.35" fill="#000087"/>
<rect x="823.17" y="612.50" width="2.36" height="2.50" fill="#000087"/>
<rect x="823.17" y="577.21" width="2.36" height="2.35" fill="#000087"/>
<rect x="825.53" y="579.57" width="2.36" height="7.06" fill="#000087"/>
<rect x="834.96" y="607.80" width="2.36" height="2.35" fill="#000087"/>
<rect x="837.32" y="676.00" width="2.76" height="7.00" fill="#00f7ff"/>
<rect x="837.32" y="660.50" width="2.76" height="15.90" fill="#a7ff58"/>
<rect x="837.32" y="650.75" width="2.76" height="10.15" fill="#38ffc7"/>
<rect x="837.32" y="643.25" width="2.36" height="7.90" fill="#0000f7"/>
<rect x="839.68" y="676.00" width="2.76" height="7.00" fill="#0000f7"/>
<rect x="839.68" y="650.75" width="2.76" height="25.65" fill="#38ffc7"/>
<rect x="839.68" y="534.87" width="2.76" height="2.35" fill="#000087"/>
<rect x="842.04" y="676.00" width="2.76" height="7.00" fill="#00f7ff"/>
<rect x="842.04" y="660.50" width="2.76" height="15.90" fill="#38ffc7"/>
<rect x="842.04" y="650.75" width="2.76" height="10.15" fill="#0000f7"/>
<rect x="842.04" y="624.00" width="2.76" height="19.25" fill="#0000f7"/>
<rect x="842.04" y="617.70" width="2.76" height="6.70" fill="#0068ff"/>
<rect x="842.04" y="600.74" width="2.76" height="17.36" fill="#00f7ff"/>
<rect x="842.04" y="593.68" width="2.36" height="7.46" fill="#0068ff"/>
<rect x="842.04" y="588.98" width="2.36" height="5.10" fill="#0000f7"/>
<rect x="842.04" y="586.62" width="2.36" height="2.75" fill="#000087"/>
<rect x="842.04" y="563.10" width="2.36" height="2.35" fill="#000087"/>
<rect x="842.04" y="556.04" width="2.36" height="2.35" fill="#000087"/>
<rect x="842.04" y="527.81" width="2.76" height="18.82" fill="#00f7ff"/>
<rect x="842.04" y="516.05" width="2.36" height="12.16" fill="#0000f7"/>
<rect x="844.40" y="676.00" width="2.36" height="7.00" fill="#00f7ff"/>
<rect x="844.40" y="660.50" width="2.36" height="15.90" fill="#38ffc7"/>
<rect x="844.40" y="637.00" width="2.76" height="23.90" fill="#0000f7"/>
<rect x="844.40" y="624.00" width="2.76" height="8.00" fill="#000087"/>
<rect x="844.40" y="610.15" width="2.76" height="14.25" fill="#0000f7"/>
<rect x="844.40" y="603.09" width="2.76" height="7.46" fill="#0068ff"/>
<rect x="844.40" y="560.75" width="2.36" height="2.35" fill="#000087"/>
<rect x="844.40" y="553.69" width="2.36" height="2.35" fill="#000087"/>
<rect x="844.40" y="544.28" width="2.36" height="2.35" fill="#000087"/>
<rect x="844.40" y="539.58" width="2.36" height="2.35" fill="#000087"/>
<rect x="846.76" y="632.00" width="2.76" height="11.25" fill="#0000f7"/>
<rect x="846.76" y="627.80" width="2.76" height="4.60" fill="#000087"/>
<rect x="846.76" y="617.70" width="2.76" height="10.50" fill="#0000f7"/>
<rect x="846.76" y="603.09" width="2.76" height="15.01" fill="#0000b7"/>
<rect x="846.76" y="600.74" width="2.36" height="2.75" fill="#000087"/>
<rect x="849.12" y="650.75" width="2.36" height="9.75" fill="#0000f7"/>
<rect x="849.12" y="637.00" width="2.76" height="14.15" fill="#00f7ff"/>
<rect x="849.12" y="615.00" width="2.76" height="22.40" fill="#0068ff"/>
<rect x="849.12" y="603.09" width="2.76" height="9.41" fill="#0028ff"/>
<rect x="849.12" y="494.88" width="2.36" height="4.70" fill="#0000b7"/>
<rect x="851.47" y="637.00" width="2.36" height="6.25" fill="#0000f7"/>
<rect x="851.47" y="610.15" width="2.76" height="27.25" fill="#0068ff"/>
<rect x="851.47" y="603.09" width="2.76" height="7.46" fill="#0028ff"/>
<rect x="853.83" y="617.70" width="2.36" height="6.30" fill="#000087"/>
<rect x="853.83" y="607.80" width="2.36" height="7.20" fill="#000087"/>
<rect x="853.83" y="591.33" width="2.36" height="2.35" fill="#000087"/>
</g>
<g stroke="#262626" stroke-width="1" shape-rendering="crispEdges" fill="none">
<rect x="133.5" y="422.5" width="727" height="261"/>
<line x1="133.5" y1="683.5" x2="133.5" y2="691"/>
<line x1="133.5" y1="422.5" x2="133.5" y2="414"/>
<line x1="250.5" y1="683.5" x2="250.5" y2="691"/>
<line x1="250.5" y1="422.5" x2="250.5" y2="414"/>
<line x1="368.5" y1="683.5" x2="368.5" y2="691"/>
<line x1="368.5" y1="422.5" x2="368.5" y2="414"/>
<line x1="486.5" y1="683.5" x2="486.5" y2="691"/>
<line x1="486.5" y1="422.5" x2="486.5" y2="414"/>
<line x1="604.5" y1="683.5" x2="604.5" y2="691"/>
<line x1="604.5" y1="422.5" x2="604.5" y2="414"/>
<line x1="722.5" y1="683.5" x2="722.5" y2="691"/>
<line x1="722.5" y1="422.5" x2="722.5" y2="414"/>
<line x1="840.5" y1="683.5" x2="840.5" y2="691"/>
<line x1="840.5" y1="422.5" x2="840.5" y2="414"/>
<line x1="133.5" y1="679.5" x2="129" y2="679.5"/>
<line x1="860.5" y1="679.5" x2="864.5" y2="679.5"/>
<line x1="133.5" y1="675.5" x2="129" y2="675.5"/>
<line x1="860.5" y1="675.5" x2="864.5" y2="675.5"/>
<line x1="133.5" y1="671.5" x2="129" y2="671.5"/>
<line x1="860.5" y1="671.5" x2="864.5" y2="671.5"/>
<line x1="133.5" y1="668.5" x2="125" y2="668.5"/>
<line x1="860.5" y1="668.5" x2="868.5" y2="668.5"/>
<line x1="133.5" y1="648.5" x2="129" y2="648.5"/>
<line x1="860.5" y1="648.5" x2="864.5" y2="648.5"/>
<line x1="133.5" y1="636.5" x2="129" y2="636.5"/>
<line x1="860.5" y1="636.5" x2="864.5" y2="636.5"/>
<line x1="133.5" y1="627.5" x2="129" y2="627.5"/>
<line x1="860.5" y1="627.5" x2="864.5" y2="627.5"/>
<line x1="133.5" y1="620.5" x2="129" y2="620.5"/>
<line x1="860.5" y1="620.5" x2="864.5" y2="620.5"/>
<line x1="133.5" y1="615.5" x2="129" y2="615.5"/>
<line x1="860.5" y1="615.5" x2="864.5" y2="615.5"/>
<line x1="133.5" y1="610.5" x2="129" y2="610.5"/>
<line x1="860.5" y1="610.5" x2="864.5" y2="610.5"/>
<line x1="133.5" y1="606.5" x2="129" y2="606.5"/>
<line x1="860.5" y1="606.5" x2="864.5" y2="606.5"/>
<line x1="133.5" y1="603.5" x2="129" y2="603.5"/>
<line x1="860.5" y1="603.5" x2="864.5" y2="603.5"/>
<line x1="133.5" y1="600.5" x2="125" y2="600.5"/>
<line x1="860.5" y1="600.5" x2="868.5" y2="600.5"/>
<line x1="133.5" y1="579.5" x2="129" y2="579.5"/>
<line x1="860.5" y1="579.5" x2="864.5" y2="579.5"/>
<line x1="133.5" y1="567.5" x2="129" y2="567.5"/>
<line x1="860.5" y1="567.5" x2="864.5" y2="567.5"/>
<line x1="133.5" y1="559.5" x2="129" y2="559.5"/>
<line x1="860.5" y1="559.5" x2="864.5" y2="559.5"/>
<line x1="133.5" y1="552.5" x2="129" y2="552.5"/>
<line x1="860.5" y1="552.5" x2="864.5" y2="552.5"/>
<line x1="133.5" y1="546.5" x2="129" y2="546.5"/>
<line x1="860.5" y1="546.5" x2="864.5" y2="546.5"/>
<line x1="133.5" y1="542.5" x2="129" y2="542.5"/>
<line x1="860.5" y1="542.5" x2="864.5" y2="542.5"/>
<line x1="133.5" y1="538.5" x2="129" y2="538.5"/>
<line x1="860.5" y1="538.5" x2="864.5" y2="538.5"/>
<line x1="133.5" y1="534.5" x2="129" y2="534.5"/>
<line x1="860.5" y1="534.5" x2="864.5" y2="534.5"/>
<line x1="133.5" y1="531.5" x2="125" y2="531.5"/>
<line x1="860.5" y1="531.5" x2="868.5" y2="531.5"/>
<line x1="133.5" y1="511.5" x2="129" y2="511.5"/>
<line x1="860.5" y1="511.5" x2="864.5" y2="511.5"/>
<line x1="133.5" y1="499.5" x2="129" y2="499.5"/>
<line x1="860.5" y1="499.5" x2="864.5" y2="499.5"/>
<line x1="133.5" y1="490.5" x2="129" y2="490.5"/>
<line x1="860.5" y1="490.5" x2="864.5" y2="490.5"/>
<line x1="133.5" y1="483.5" x2="129" y2="483.5"/>
<line x1="860.5" y1="483.5" x2="864.5" y2="483.5"/>
<line x1="133.5" y1="478.5" x2="129" y2="478.5"/>
<line x1="860.5" y1="478.5" x2="864.5" y2="478.5"/>
<line x1="133.5" y1="473.5" x2="129" y2="473.5"/>
<line x1="860.5" y1="473.5" x2="864.5" y2="473.5"/>
<line x1="133.5" y1="469.5" x2="129" y2="469.5"/>
<line x1="860.5" y1="469.5" x2="864.5" y2="469.5"/>
<line x1="133.5" y1="466.5" x2="129" y2="466.5"/>
<line x1="860.5" y1="466.5" x2="864.5" y2="466.5"/>
<line x1="133.5" y1="463.5" x2="125" y2="463.5"/>
<line x1="860.5" y1="463.5" x2="868.5" y2="463.5"/>
<line x1="133.5" y1="442.5" x2="129" y2="442.5"/>
<line x1="860.5" y1="442.5" x2="864.5" y2="442.5"/>
<line x1="133.5" y1="430.5" x2="129" y2="430.5"/>
<line x1="860.5" y1="430.5" x2="864.5" y2="430.5"/>
<line x1="133.5" y1="422.5" x2="129" y2="422.5"/>
<line x1="860.5" y1="422.5" x2="864.5" y2="422.5"/>
</g>
<g shape-rendering="crispEdges">
<rect x="875.5" y="422.5" width="23" height="261" fill="url(#jet)" stroke="#262626"/>
<line x1="898.5" y1="631.5" x2="895.5" y2="631.5" stroke="#262626"/>
<line x1="898.5" y1="579.5" x2="895.5" y2="579.5" stroke="#262626"/>
<line x1="898.5" y1="526.5" x2="895.5" y2="526.5" stroke="#262626"/>
<line x1="898.5" y1="474.5" x2="895.5" y2="474.5" stroke="#262626"/>
</g>
<text x="132.8" y="715" font-size="17.8" text-anchor="middle" fill="#262626">23:00</text>
<text x="250.63" y="715" font-size="17.8" text-anchor="middle" fill="#262626">23:10</text>
<text x="368.47" y="715" font-size="17.8" text-anchor="middle" fill="#262626">23:20</text>
<text x="486.3" y="715" font-size="17.8" text-anchor="middle" fill="#262626">23:30</text>
<text x="604.13" y="715" font-size="17.8" text-anchor="middle" fill="#262626">23:40</text>
<text x="721.97" y="715" font-size="17.8" text-anchor="middle" fill="#262626">23:50</text>
<text x="839.8" y="715" font-size="17.8" text-anchor="middle" fill="#262626">00:00</text>
<text x="90" y="674.1999999999999" font-size="18.0" text-anchor="middle" fill="#262626">10</text>
<text x="90" y="605.6999999999999" font-size="18.0" text-anchor="middle" fill="#262626">100</text>
<text x="90" y="537.1999999999999" font-size="18.0" text-anchor="middle" fill="#262626">1000</text>
<text x="90" y="468.7" font-size="18.0" text-anchor="middle" fill="#262626">10000</text>
<text x="904.8" y="688.5" font-size="18.0" text-anchor="start" fill="#262626">0</text>
<text x="904.8" y="636.3" font-size="18.0" text-anchor="start" fill="#262626">1</text>
<text x="904.8" y="584.1" font-size="18.0" text-anchor="start" fill="#262626">2</text>
<text x="904.8" y="531.9" font-size="18.0" text-anchor="start" fill="#262626">3</text>
<text x="904.8" y="479.7" font-size="18.0" text-anchor="start" fill="#262626">4</text>
<text x="904.8" y="427.5" font-size="18.0" text-anchor="start" fill="#262626">5</text>
<text x="496.5" y="740" font-size="20" text-anchor="middle" fill="#262626">Time</text>
<text x="52" y="553.0" font-size="20" text-anchor="middle" transform="rotate(-90 52 553.0)" fill="#262626">Energy (eV)</text>
<text x="887.5" y="410.8" font-size="18.2" text-anchor="middle" fill="#000">Log counts</text>
<text x="497.2" y="412.4" font-size="19.8" text-anchor="middle" font-weight="bold" fill="#000">Cometary Ions</text>
<text x="497.7" y="25" font-size="19.8" text-anchor="middle" font-weight="bold" fill="#000">RPCICA150314T23.PNG</text>
</svg></body></html>
